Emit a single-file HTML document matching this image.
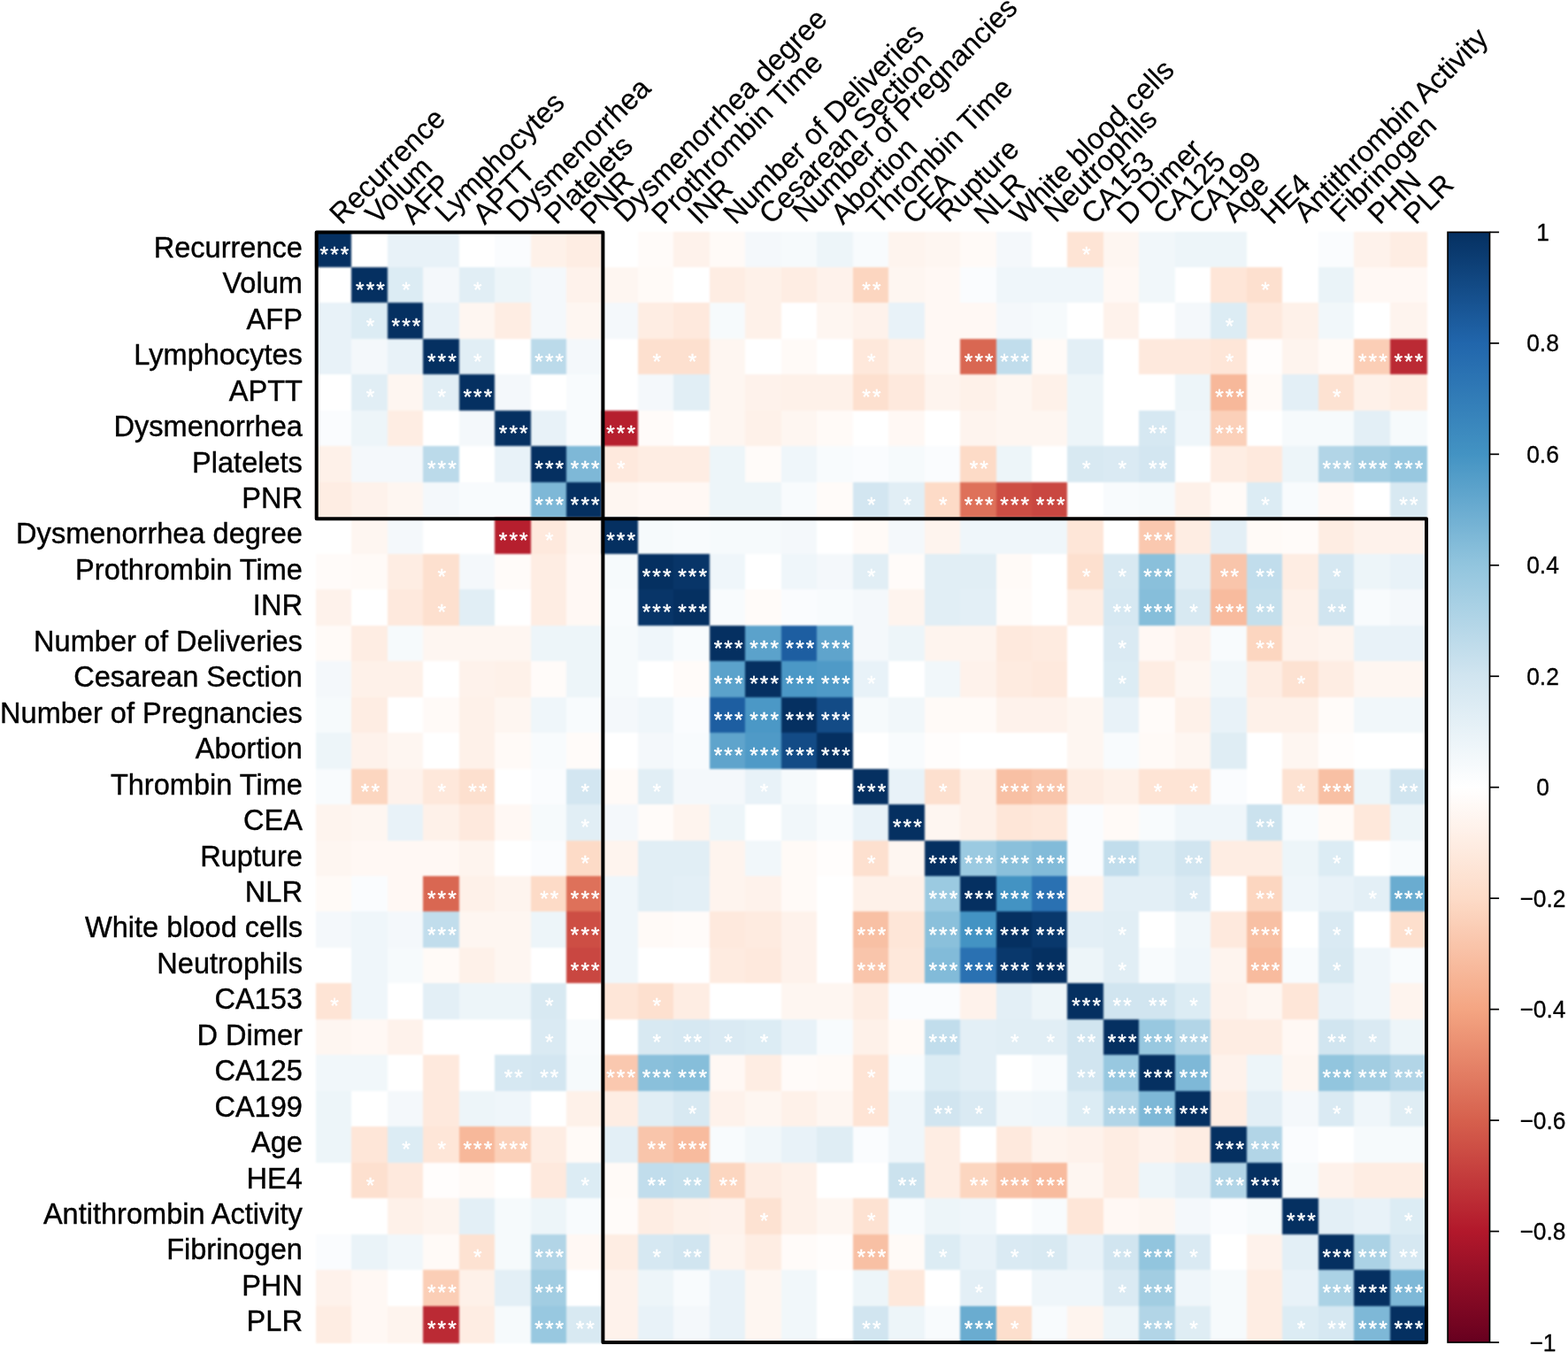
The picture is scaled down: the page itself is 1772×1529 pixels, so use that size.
<!DOCTYPE html>
<html lang="en"><head><meta charset="utf-8"><title>Correlation heatmap</title>
<style>
html,body{margin:0;padding:0;background:#fff;}
body{width:1772px;height:1529px;overflow:hidden;}
svg{display:block;font-family:"Liberation Sans",sans-serif;}
.rl{font-size:32.55px;text-anchor:end;fill:#000;stroke:#000;stroke-width:0.4px;}
.cl{font-size:32.6px;text-anchor:start;fill:#000;stroke:#000;stroke-width:0.2px;}
.st{font-size:24.5px;letter-spacing:2.1px;text-anchor:middle;fill:#fff;stroke:#fff;stroke-width:0.4px;}
.cb{font-size:26.4px;text-anchor:middle;fill:#000;stroke:#000;stroke-width:0.3px;}
</style></head><body>
<svg width="1772" height="1529" viewBox="0 0 1772 1529">
<rect x="0" y="0" width="1772" height="1529" fill="#fff"/>
<defs><linearGradient id="cbg" x1="0" y1="0" x2="0" y2="1">
<stop offset="0%" stop-color="#053061"/>
<stop offset="10%" stop-color="#2166AC"/>
<stop offset="20%" stop-color="#4393C3"/>
<stop offset="30%" stop-color="#92C5DE"/>
<stop offset="40%" stop-color="#D1E5F0"/>
<stop offset="50%" stop-color="#FFFFFF"/>
<stop offset="60%" stop-color="#FDDBC7"/>
<stop offset="70%" stop-color="#F4A582"/>
<stop offset="80%" stop-color="#D6604D"/>
<stop offset="90%" stop-color="#B2182B"/>
<stop offset="100%" stop-color="#67001F"/>
</linearGradient>
<filter id="soft" color-interpolation-filters="sRGB" filterUnits="userSpaceOnUse" x="0" y="0" width="1772" height="1529"><feGaussianBlur stdDeviation="0.8"/></filter></defs>
<g shape-rendering="crispEdges" filter="url(#soft)">
<rect x="356.80" y="261.50" width="42.26" height="42.27" fill="#053061"/>
<rect x="356.80" y="301.97" width="42.26" height="42.27" fill="#ffffff"/>
<rect x="356.80" y="342.44" width="42.26" height="42.27" fill="#e8f2f8"/>
<rect x="356.80" y="382.91" width="42.26" height="42.27" fill="#e8f2f8"/>
<rect x="356.80" y="423.38" width="42.26" height="42.27" fill="#ffffff"/>
<rect x="356.80" y="463.85" width="42.26" height="42.27" fill="#fafcfe"/>
<rect x="356.80" y="504.33" width="42.26" height="42.27" fill="#fef1e9"/>
<rect x="356.80" y="544.80" width="42.26" height="42.27" fill="#feede3"/>
<rect x="356.80" y="585.27" width="42.26" height="42.27" fill="#ffffff"/>
<rect x="356.80" y="625.74" width="42.26" height="42.27" fill="#fffbf9"/>
<rect x="356.80" y="666.21" width="42.26" height="42.27" fill="#fef2eb"/>
<rect x="356.80" y="706.68" width="42.26" height="42.27" fill="#fffaf7"/>
<rect x="356.80" y="747.15" width="42.26" height="42.27" fill="#f4f8fb"/>
<rect x="356.80" y="787.62" width="42.26" height="42.27" fill="#f6fafc"/>
<rect x="356.80" y="828.09" width="42.26" height="42.27" fill="#edf5f9"/>
<rect x="356.80" y="868.56" width="42.26" height="42.27" fill="#f8fbfd"/>
<rect x="356.80" y="909.04" width="42.26" height="42.27" fill="#fef4ee"/>
<rect x="356.80" y="949.51" width="42.26" height="42.27" fill="#fef6f1"/>
<rect x="356.80" y="989.98" width="42.26" height="42.27" fill="#fffaf7"/>
<rect x="356.80" y="1030.45" width="42.26" height="42.27" fill="#f4f8fb"/>
<rect x="356.80" y="1070.92" width="42.26" height="42.27" fill="#ffffff"/>
<rect x="356.80" y="1111.39" width="42.26" height="42.27" fill="#fee4d5"/>
<rect x="356.80" y="1151.86" width="42.26" height="42.27" fill="#fef6f1"/>
<rect x="356.80" y="1192.33" width="42.26" height="42.27" fill="#f1f7fa"/>
<rect x="356.80" y="1232.80" width="42.26" height="42.27" fill="#edf5f9"/>
<rect x="356.80" y="1273.27" width="42.26" height="42.27" fill="#edf5f9"/>
<rect x="356.80" y="1313.75" width="42.26" height="42.27" fill="#ffffff"/>
<rect x="356.80" y="1354.22" width="42.26" height="42.27" fill="#ffffff"/>
<rect x="356.80" y="1394.69" width="42.26" height="42.27" fill="#fafcfe"/>
<rect x="356.80" y="1435.16" width="42.26" height="42.27" fill="#fef2eb"/>
<rect x="356.80" y="1475.63" width="42.26" height="42.27" fill="#feede3"/>
<rect x="397.26" y="261.50" width="42.26" height="42.27" fill="#ffffff"/>
<rect x="397.26" y="301.97" width="42.26" height="42.27" fill="#053061"/>
<rect x="397.26" y="342.44" width="42.26" height="42.27" fill="#dcecf4"/>
<rect x="397.26" y="382.91" width="42.26" height="42.27" fill="#f4f8fb"/>
<rect x="397.26" y="423.38" width="42.26" height="42.27" fill="#e1eef5"/>
<rect x="397.26" y="463.85" width="42.26" height="42.27" fill="#edf5f9"/>
<rect x="397.26" y="504.33" width="42.26" height="42.27" fill="#f4f8fb"/>
<rect x="397.26" y="544.80" width="42.26" height="42.27" fill="#fef2eb"/>
<rect x="397.26" y="585.27" width="42.26" height="42.27" fill="#fef6f1"/>
<rect x="397.26" y="625.74" width="42.26" height="42.27" fill="#fffaf7"/>
<rect x="397.26" y="666.21" width="42.26" height="42.27" fill="#ffffff"/>
<rect x="397.26" y="706.68" width="42.26" height="42.27" fill="#feede3"/>
<rect x="397.26" y="747.15" width="42.26" height="42.27" fill="#fef1e9"/>
<rect x="397.26" y="787.62" width="42.26" height="42.27" fill="#feede3"/>
<rect x="397.26" y="828.09" width="42.26" height="42.27" fill="#fef2eb"/>
<rect x="397.26" y="868.56" width="42.26" height="42.27" fill="#fcd6c0"/>
<rect x="397.26" y="909.04" width="42.26" height="42.27" fill="#fef6f1"/>
<rect x="397.26" y="949.51" width="42.26" height="42.27" fill="#fff8f4"/>
<rect x="397.26" y="989.98" width="42.26" height="42.27" fill="#fafcfe"/>
<rect x="397.26" y="1030.45" width="42.26" height="42.27" fill="#eff6fa"/>
<rect x="397.26" y="1070.92" width="42.26" height="42.27" fill="#eff6fa"/>
<rect x="397.26" y="1111.39" width="42.26" height="42.27" fill="#eff6fa"/>
<rect x="397.26" y="1151.86" width="42.26" height="42.27" fill="#fff8f4"/>
<rect x="397.26" y="1192.33" width="42.26" height="42.27" fill="#f1f7fa"/>
<rect x="397.26" y="1232.80" width="42.26" height="42.27" fill="#ffffff"/>
<rect x="397.26" y="1273.27" width="42.26" height="42.27" fill="#fee6d8"/>
<rect x="397.26" y="1313.75" width="42.26" height="42.27" fill="#fde0cf"/>
<rect x="397.26" y="1354.22" width="42.26" height="42.27" fill="#ffffff"/>
<rect x="397.26" y="1394.69" width="42.26" height="42.27" fill="#eaf3f8"/>
<rect x="397.26" y="1435.16" width="42.26" height="42.27" fill="#fff8f4"/>
<rect x="397.26" y="1475.63" width="42.26" height="42.27" fill="#fff8f4"/>
<rect x="437.72" y="261.50" width="42.26" height="42.27" fill="#e8f2f8"/>
<rect x="437.72" y="301.97" width="42.26" height="42.27" fill="#dcecf4"/>
<rect x="437.72" y="342.44" width="42.26" height="42.27" fill="#053061"/>
<rect x="437.72" y="382.91" width="42.26" height="42.27" fill="#e8f2f8"/>
<rect x="437.72" y="423.38" width="42.26" height="42.27" fill="#fef6f1"/>
<rect x="437.72" y="463.85" width="42.26" height="42.27" fill="#feede3"/>
<rect x="437.72" y="504.33" width="42.26" height="42.27" fill="#f4f8fb"/>
<rect x="437.72" y="544.80" width="42.26" height="42.27" fill="#fef6f1"/>
<rect x="437.72" y="585.27" width="42.26" height="42.27" fill="#f4f8fb"/>
<rect x="437.72" y="625.74" width="42.26" height="42.27" fill="#feede3"/>
<rect x="437.72" y="666.21" width="42.26" height="42.27" fill="#fee9dd"/>
<rect x="437.72" y="706.68" width="42.26" height="42.27" fill="#f6fafc"/>
<rect x="437.72" y="747.15" width="42.26" height="42.27" fill="#fef1e9"/>
<rect x="437.72" y="787.62" width="42.26" height="42.27" fill="#ffffff"/>
<rect x="437.72" y="828.09" width="42.26" height="42.27" fill="#fef6f1"/>
<rect x="437.72" y="868.56" width="42.26" height="42.27" fill="#fef2eb"/>
<rect x="437.72" y="909.04" width="42.26" height="42.27" fill="#e8f2f8"/>
<rect x="437.72" y="949.51" width="42.26" height="42.27" fill="#fff8f4"/>
<rect x="437.72" y="989.98" width="42.26" height="42.27" fill="#fff8f4"/>
<rect x="437.72" y="1030.45" width="42.26" height="42.27" fill="#f4f8fb"/>
<rect x="437.72" y="1070.92" width="42.26" height="42.27" fill="#f6fafc"/>
<rect x="437.72" y="1111.39" width="42.26" height="42.27" fill="#ffffff"/>
<rect x="437.72" y="1151.86" width="42.26" height="42.27" fill="#fef2eb"/>
<rect x="437.72" y="1192.33" width="42.26" height="42.27" fill="#ffffff"/>
<rect x="437.72" y="1232.80" width="42.26" height="42.27" fill="#f4f8fb"/>
<rect x="437.72" y="1273.27" width="42.26" height="42.27" fill="#dcecf4"/>
<rect x="437.72" y="1313.75" width="42.26" height="42.27" fill="#fee9dd"/>
<rect x="437.72" y="1354.22" width="42.26" height="42.27" fill="#fef1e9"/>
<rect x="437.72" y="1394.69" width="42.26" height="42.27" fill="#f1f7fa"/>
<rect x="437.72" y="1435.16" width="42.26" height="42.27" fill="#ffffff"/>
<rect x="437.72" y="1475.63" width="42.26" height="42.27" fill="#fef4ee"/>
<rect x="478.18" y="261.50" width="42.26" height="42.27" fill="#e8f2f8"/>
<rect x="478.18" y="301.97" width="42.26" height="42.27" fill="#f4f8fb"/>
<rect x="478.18" y="342.44" width="42.26" height="42.27" fill="#e8f2f8"/>
<rect x="478.18" y="382.91" width="42.26" height="42.27" fill="#053061"/>
<rect x="478.18" y="423.38" width="42.26" height="42.27" fill="#e1eef5"/>
<rect x="478.18" y="463.85" width="42.26" height="42.27" fill="#ffffff"/>
<rect x="478.18" y="504.33" width="42.26" height="42.27" fill="#bbdaea"/>
<rect x="478.18" y="544.80" width="42.26" height="42.27" fill="#f4f8fb"/>
<rect x="478.18" y="585.27" width="42.26" height="42.27" fill="#ffffff"/>
<rect x="478.18" y="625.74" width="42.26" height="42.27" fill="#fde0cf"/>
<rect x="478.18" y="666.21" width="42.26" height="42.27" fill="#fde0cf"/>
<rect x="478.18" y="706.68" width="42.26" height="42.27" fill="#fef6f1"/>
<rect x="478.18" y="747.15" width="42.26" height="42.27" fill="#ffffff"/>
<rect x="478.18" y="787.62" width="42.26" height="42.27" fill="#fffaf7"/>
<rect x="478.18" y="828.09" width="42.26" height="42.27" fill="#ffffff"/>
<rect x="478.18" y="868.56" width="42.26" height="42.27" fill="#fee8db"/>
<rect x="478.18" y="909.04" width="42.26" height="42.27" fill="#fef1e9"/>
<rect x="478.18" y="949.51" width="42.26" height="42.27" fill="#fff8f4"/>
<rect x="478.18" y="989.98" width="42.26" height="42.27" fill="#d96752"/>
<rect x="478.18" y="1030.45" width="42.26" height="42.27" fill="#c1ddec"/>
<rect x="478.18" y="1070.92" width="42.26" height="42.27" fill="#fffaf7"/>
<rect x="478.18" y="1111.39" width="42.26" height="42.27" fill="#e3eff6"/>
<rect x="478.18" y="1151.86" width="42.26" height="42.27" fill="#ffffff"/>
<rect x="478.18" y="1192.33" width="42.26" height="42.27" fill="#fee9dd"/>
<rect x="478.18" y="1232.80" width="42.26" height="42.27" fill="#fee9dd"/>
<rect x="478.18" y="1273.27" width="42.26" height="42.27" fill="#fee6d8"/>
<rect x="478.18" y="1313.75" width="42.26" height="42.27" fill="#fffdfc"/>
<rect x="478.18" y="1354.22" width="42.26" height="42.27" fill="#fef4ee"/>
<rect x="478.18" y="1394.69" width="42.26" height="42.27" fill="#fffaf7"/>
<rect x="478.18" y="1435.16" width="42.26" height="42.27" fill="#fbceb6"/>
<rect x="478.18" y="1475.63" width="42.26" height="42.27" fill="#bb2a34"/>
<rect x="518.65" y="261.50" width="42.26" height="42.27" fill="#ffffff"/>
<rect x="518.65" y="301.97" width="42.26" height="42.27" fill="#e1eef5"/>
<rect x="518.65" y="342.44" width="42.26" height="42.27" fill="#fef6f1"/>
<rect x="518.65" y="382.91" width="42.26" height="42.27" fill="#e1eef5"/>
<rect x="518.65" y="423.38" width="42.26" height="42.27" fill="#053061"/>
<rect x="518.65" y="463.85" width="42.26" height="42.27" fill="#f4f8fb"/>
<rect x="518.65" y="504.33" width="42.26" height="42.27" fill="#ffffff"/>
<rect x="518.65" y="544.80" width="42.26" height="42.27" fill="#f8fbfd"/>
<rect x="518.65" y="585.27" width="42.26" height="42.27" fill="#ffffff"/>
<rect x="518.65" y="625.74" width="42.26" height="42.27" fill="#f4f8fb"/>
<rect x="518.65" y="666.21" width="42.26" height="42.27" fill="#e1eef5"/>
<rect x="518.65" y="706.68" width="42.26" height="42.27" fill="#fef6f1"/>
<rect x="518.65" y="747.15" width="42.26" height="42.27" fill="#fef2eb"/>
<rect x="518.65" y="787.62" width="42.26" height="42.27" fill="#fef1e9"/>
<rect x="518.65" y="828.09" width="42.26" height="42.27" fill="#fef1e9"/>
<rect x="518.65" y="868.56" width="42.26" height="42.27" fill="#fde0cf"/>
<rect x="518.65" y="909.04" width="42.26" height="42.27" fill="#fee9dd"/>
<rect x="518.65" y="949.51" width="42.26" height="42.27" fill="#fef4ee"/>
<rect x="518.65" y="989.98" width="42.26" height="42.27" fill="#fef1e9"/>
<rect x="518.65" y="1030.45" width="42.26" height="42.27" fill="#fef6f1"/>
<rect x="518.65" y="1070.92" width="42.26" height="42.27" fill="#fef1e9"/>
<rect x="518.65" y="1111.39" width="42.26" height="42.27" fill="#edf5f9"/>
<rect x="518.65" y="1151.86" width="42.26" height="42.27" fill="#ffffff"/>
<rect x="518.65" y="1192.33" width="42.26" height="42.27" fill="#ffffff"/>
<rect x="518.65" y="1232.80" width="42.26" height="42.27" fill="#edf5f9"/>
<rect x="518.65" y="1273.27" width="42.26" height="42.27" fill="#f7b89a"/>
<rect x="518.65" y="1313.75" width="42.26" height="42.27" fill="#fffaf7"/>
<rect x="518.65" y="1354.22" width="42.26" height="42.27" fill="#e3eff6"/>
<rect x="518.65" y="1394.69" width="42.26" height="42.27" fill="#fde2d2"/>
<rect x="518.65" y="1435.16" width="42.26" height="42.27" fill="#fef1e9"/>
<rect x="518.65" y="1475.63" width="42.26" height="42.27" fill="#feede3"/>
<rect x="559.11" y="261.50" width="42.26" height="42.27" fill="#fafcfe"/>
<rect x="559.11" y="301.97" width="42.26" height="42.27" fill="#edf5f9"/>
<rect x="559.11" y="342.44" width="42.26" height="42.27" fill="#feede3"/>
<rect x="559.11" y="382.91" width="42.26" height="42.27" fill="#ffffff"/>
<rect x="559.11" y="423.38" width="42.26" height="42.27" fill="#f4f8fb"/>
<rect x="559.11" y="463.85" width="42.26" height="42.27" fill="#053061"/>
<rect x="559.11" y="504.33" width="42.26" height="42.27" fill="#e8f2f8"/>
<rect x="559.11" y="544.80" width="42.26" height="42.27" fill="#f8fbfd"/>
<rect x="559.11" y="585.27" width="42.26" height="42.27" fill="#b61f2e"/>
<rect x="559.11" y="625.74" width="42.26" height="42.27" fill="#fffbf9"/>
<rect x="559.11" y="666.21" width="42.26" height="42.27" fill="#ffffff"/>
<rect x="559.11" y="706.68" width="42.26" height="42.27" fill="#fef6f1"/>
<rect x="559.11" y="747.15" width="42.26" height="42.27" fill="#fef1e9"/>
<rect x="559.11" y="787.62" width="42.26" height="42.27" fill="#fef6f1"/>
<rect x="559.11" y="828.09" width="42.26" height="42.27" fill="#fffaf7"/>
<rect x="559.11" y="868.56" width="42.26" height="42.27" fill="#ffffff"/>
<rect x="559.11" y="909.04" width="42.26" height="42.27" fill="#fff8f4"/>
<rect x="559.11" y="949.51" width="42.26" height="42.27" fill="#ffffff"/>
<rect x="559.11" y="989.98" width="42.26" height="42.27" fill="#fef4ee"/>
<rect x="559.11" y="1030.45" width="42.26" height="42.27" fill="#fef6f1"/>
<rect x="559.11" y="1070.92" width="42.26" height="42.27" fill="#fef6f1"/>
<rect x="559.11" y="1111.39" width="42.26" height="42.27" fill="#edf5f9"/>
<rect x="559.11" y="1151.86" width="42.26" height="42.27" fill="#ffffff"/>
<rect x="559.11" y="1192.33" width="42.26" height="42.27" fill="#d6e8f2"/>
<rect x="559.11" y="1232.80" width="42.26" height="42.27" fill="#eff6fa"/>
<rect x="559.11" y="1273.27" width="42.26" height="42.27" fill="#fbd0b9"/>
<rect x="559.11" y="1313.75" width="42.26" height="42.27" fill="#ffffff"/>
<rect x="559.11" y="1354.22" width="42.26" height="42.27" fill="#f6fafc"/>
<rect x="559.11" y="1394.69" width="42.26" height="42.27" fill="#f6fafc"/>
<rect x="559.11" y="1435.16" width="42.26" height="42.27" fill="#e3eff6"/>
<rect x="559.11" y="1475.63" width="42.26" height="42.27" fill="#f6fafc"/>
<rect x="599.57" y="261.50" width="42.26" height="42.27" fill="#fef1e9"/>
<rect x="599.57" y="301.97" width="42.26" height="42.27" fill="#f4f8fb"/>
<rect x="599.57" y="342.44" width="42.26" height="42.27" fill="#f4f8fb"/>
<rect x="599.57" y="382.91" width="42.26" height="42.27" fill="#bbdaea"/>
<rect x="599.57" y="423.38" width="42.26" height="42.27" fill="#ffffff"/>
<rect x="599.57" y="463.85" width="42.26" height="42.27" fill="#e8f2f8"/>
<rect x="599.57" y="504.33" width="42.26" height="42.27" fill="#053061"/>
<rect x="599.57" y="544.80" width="42.26" height="42.27" fill="#7eb8d7"/>
<rect x="599.57" y="585.27" width="42.26" height="42.27" fill="#fee9dd"/>
<rect x="599.57" y="625.74" width="42.26" height="42.27" fill="#feede3"/>
<rect x="599.57" y="666.21" width="42.26" height="42.27" fill="#feede3"/>
<rect x="599.57" y="706.68" width="42.26" height="42.27" fill="#edf5f9"/>
<rect x="599.57" y="747.15" width="42.26" height="42.27" fill="#fffbf9"/>
<rect x="599.57" y="787.62" width="42.26" height="42.27" fill="#eff6fa"/>
<rect x="599.57" y="828.09" width="42.26" height="42.27" fill="#f8fbfd"/>
<rect x="599.57" y="868.56" width="42.26" height="42.27" fill="#fafcfe"/>
<rect x="599.57" y="909.04" width="42.26" height="42.27" fill="#f6fafc"/>
<rect x="599.57" y="949.51" width="42.26" height="42.27" fill="#fafcfe"/>
<rect x="599.57" y="989.98" width="42.26" height="42.27" fill="#fddbc7"/>
<rect x="599.57" y="1030.45" width="42.26" height="42.27" fill="#edf5f9"/>
<rect x="599.57" y="1070.92" width="42.26" height="42.27" fill="#ffffff"/>
<rect x="599.57" y="1111.39" width="42.26" height="42.27" fill="#d8e9f2"/>
<rect x="599.57" y="1151.86" width="42.26" height="42.27" fill="#daeaf3"/>
<rect x="599.57" y="1192.33" width="42.26" height="42.27" fill="#d3e6f1"/>
<rect x="599.57" y="1232.80" width="42.26" height="42.27" fill="#ffffff"/>
<rect x="599.57" y="1273.27" width="42.26" height="42.27" fill="#feede3"/>
<rect x="599.57" y="1313.75" width="42.26" height="42.27" fill="#fee9dd"/>
<rect x="599.57" y="1354.22" width="42.26" height="42.27" fill="#edf5f9"/>
<rect x="599.57" y="1394.69" width="42.26" height="42.27" fill="#b2d5e7"/>
<rect x="599.57" y="1435.16" width="42.26" height="42.27" fill="#a2cde2"/>
<rect x="599.57" y="1475.63" width="42.26" height="42.27" fill="#98c8e0"/>
<rect x="640.03" y="261.50" width="42.26" height="42.27" fill="#feede3"/>
<rect x="640.03" y="301.97" width="42.26" height="42.27" fill="#fef2eb"/>
<rect x="640.03" y="342.44" width="42.26" height="42.27" fill="#fef6f1"/>
<rect x="640.03" y="382.91" width="42.26" height="42.27" fill="#f4f8fb"/>
<rect x="640.03" y="423.38" width="42.26" height="42.27" fill="#f8fbfd"/>
<rect x="640.03" y="463.85" width="42.26" height="42.27" fill="#f8fbfd"/>
<rect x="640.03" y="504.33" width="42.26" height="42.27" fill="#7eb8d7"/>
<rect x="640.03" y="544.80" width="42.26" height="42.27" fill="#053061"/>
<rect x="640.03" y="585.27" width="42.26" height="42.27" fill="#fef6f1"/>
<rect x="640.03" y="625.74" width="42.26" height="42.27" fill="#fff8f4"/>
<rect x="640.03" y="666.21" width="42.26" height="42.27" fill="#fff8f4"/>
<rect x="640.03" y="706.68" width="42.26" height="42.27" fill="#edf5f9"/>
<rect x="640.03" y="747.15" width="42.26" height="42.27" fill="#edf5f9"/>
<rect x="640.03" y="787.62" width="42.26" height="42.27" fill="#f8fbfd"/>
<rect x="640.03" y="828.09" width="42.26" height="42.27" fill="#fffbf9"/>
<rect x="640.03" y="868.56" width="42.26" height="42.27" fill="#d3e6f1"/>
<rect x="640.03" y="909.04" width="42.26" height="42.27" fill="#e1eef5"/>
<rect x="640.03" y="949.51" width="42.26" height="42.27" fill="#fddbc7"/>
<rect x="640.03" y="989.98" width="42.26" height="42.27" fill="#de715a"/>
<rect x="640.03" y="1030.45" width="42.26" height="42.27" fill="#cd4e44"/>
<rect x="640.03" y="1070.92" width="42.26" height="42.27" fill="#c94741"/>
<rect x="640.03" y="1111.39" width="42.26" height="42.27" fill="#ffffff"/>
<rect x="640.03" y="1151.86" width="42.26" height="42.27" fill="#f8fbfd"/>
<rect x="640.03" y="1192.33" width="42.26" height="42.27" fill="#f6fafc"/>
<rect x="640.03" y="1232.80" width="42.26" height="42.27" fill="#fef1e9"/>
<rect x="640.03" y="1273.27" width="42.26" height="42.27" fill="#fffaf7"/>
<rect x="640.03" y="1313.75" width="42.26" height="42.27" fill="#dcecf4"/>
<rect x="640.03" y="1354.22" width="42.26" height="42.27" fill="#f8fbfd"/>
<rect x="640.03" y="1394.69" width="42.26" height="42.27" fill="#fff8f4"/>
<rect x="640.03" y="1435.16" width="42.26" height="42.27" fill="#ffffff"/>
<rect x="640.03" y="1475.63" width="42.26" height="42.27" fill="#d8e9f2"/>
<rect x="680.49" y="261.50" width="42.26" height="42.27" fill="#ffffff"/>
<rect x="680.49" y="301.97" width="42.26" height="42.27" fill="#fef6f1"/>
<rect x="680.49" y="342.44" width="42.26" height="42.27" fill="#f4f8fb"/>
<rect x="680.49" y="382.91" width="42.26" height="42.27" fill="#ffffff"/>
<rect x="680.49" y="423.38" width="42.26" height="42.27" fill="#ffffff"/>
<rect x="680.49" y="463.85" width="42.26" height="42.27" fill="#b61f2e"/>
<rect x="680.49" y="504.33" width="42.26" height="42.27" fill="#fee9dd"/>
<rect x="680.49" y="544.80" width="42.26" height="42.27" fill="#fef6f1"/>
<rect x="680.49" y="585.27" width="42.26" height="42.27" fill="#053061"/>
<rect x="680.49" y="625.74" width="42.26" height="42.27" fill="#f6fafc"/>
<rect x="680.49" y="666.21" width="42.26" height="42.27" fill="#f8fbfd"/>
<rect x="680.49" y="706.68" width="42.26" height="42.27" fill="#f6fafc"/>
<rect x="680.49" y="747.15" width="42.26" height="42.27" fill="#f6fafc"/>
<rect x="680.49" y="787.62" width="42.26" height="42.27" fill="#f4f8fb"/>
<rect x="680.49" y="828.09" width="42.26" height="42.27" fill="#ffffff"/>
<rect x="680.49" y="868.56" width="42.26" height="42.27" fill="#fffaf7"/>
<rect x="680.49" y="909.04" width="42.26" height="42.27" fill="#f4f8fb"/>
<rect x="680.49" y="949.51" width="42.26" height="42.27" fill="#fef4ee"/>
<rect x="680.49" y="989.98" width="42.26" height="42.27" fill="#eff6fa"/>
<rect x="680.49" y="1030.45" width="42.26" height="42.27" fill="#eff6fa"/>
<rect x="680.49" y="1070.92" width="42.26" height="42.27" fill="#eff6fa"/>
<rect x="680.49" y="1111.39" width="42.26" height="42.27" fill="#fee6d8"/>
<rect x="680.49" y="1151.86" width="42.26" height="42.27" fill="#ffffff"/>
<rect x="680.49" y="1192.33" width="42.26" height="42.27" fill="#fac8af"/>
<rect x="680.49" y="1232.80" width="42.26" height="42.27" fill="#feede3"/>
<rect x="680.49" y="1273.27" width="42.26" height="42.27" fill="#e3eff6"/>
<rect x="680.49" y="1313.75" width="42.26" height="42.27" fill="#fffaf7"/>
<rect x="680.49" y="1354.22" width="42.26" height="42.27" fill="#fffbf9"/>
<rect x="680.49" y="1394.69" width="42.26" height="42.27" fill="#feede3"/>
<rect x="680.49" y="1435.16" width="42.26" height="42.27" fill="#fef2eb"/>
<rect x="680.49" y="1475.63" width="42.26" height="42.27" fill="#fef2eb"/>
<rect x="720.95" y="261.50" width="42.26" height="42.27" fill="#fffbf9"/>
<rect x="720.95" y="301.97" width="42.26" height="42.27" fill="#fffaf7"/>
<rect x="720.95" y="342.44" width="42.26" height="42.27" fill="#feede3"/>
<rect x="720.95" y="382.91" width="42.26" height="42.27" fill="#fde0cf"/>
<rect x="720.95" y="423.38" width="42.26" height="42.27" fill="#f4f8fb"/>
<rect x="720.95" y="463.85" width="42.26" height="42.27" fill="#fffbf9"/>
<rect x="720.95" y="504.33" width="42.26" height="42.27" fill="#feede3"/>
<rect x="720.95" y="544.80" width="42.26" height="42.27" fill="#fff8f4"/>
<rect x="720.95" y="585.27" width="42.26" height="42.27" fill="#f6fafc"/>
<rect x="720.95" y="625.74" width="42.26" height="42.27" fill="#053061"/>
<rect x="720.95" y="666.21" width="42.26" height="42.27" fill="#083568"/>
<rect x="720.95" y="706.68" width="42.26" height="42.27" fill="#eff6fa"/>
<rect x="720.95" y="747.15" width="42.26" height="42.27" fill="#ffffff"/>
<rect x="720.95" y="787.62" width="42.26" height="42.27" fill="#eff6fa"/>
<rect x="720.95" y="828.09" width="42.26" height="42.27" fill="#f4f8fb"/>
<rect x="720.95" y="868.56" width="42.26" height="42.27" fill="#e1eef5"/>
<rect x="720.95" y="909.04" width="42.26" height="42.27" fill="#fffbf9"/>
<rect x="720.95" y="949.51" width="42.26" height="42.27" fill="#e1eef5"/>
<rect x="720.95" y="989.98" width="42.26" height="42.27" fill="#e1eef5"/>
<rect x="720.95" y="1030.45" width="42.26" height="42.27" fill="#fffaf7"/>
<rect x="720.95" y="1070.92" width="42.26" height="42.27" fill="#ffffff"/>
<rect x="720.95" y="1111.39" width="42.26" height="42.27" fill="#fde0cf"/>
<rect x="720.95" y="1151.86" width="42.26" height="42.27" fill="#d8e9f2"/>
<rect x="720.95" y="1192.33" width="42.26" height="42.27" fill="#8ac0db"/>
<rect x="720.95" y="1232.80" width="42.26" height="42.27" fill="#e1eef5"/>
<rect x="720.95" y="1273.27" width="42.26" height="42.27" fill="#f9c5ab"/>
<rect x="720.95" y="1313.75" width="42.26" height="42.27" fill="#c1ddec"/>
<rect x="720.95" y="1354.22" width="42.26" height="42.27" fill="#feede3"/>
<rect x="720.95" y="1394.69" width="42.26" height="42.27" fill="#d6e8f2"/>
<rect x="720.95" y="1435.16" width="42.26" height="42.27" fill="#edf5f9"/>
<rect x="720.95" y="1475.63" width="42.26" height="42.27" fill="#e8f2f8"/>
<rect x="761.41" y="261.50" width="42.26" height="42.27" fill="#fef2eb"/>
<rect x="761.41" y="301.97" width="42.26" height="42.27" fill="#ffffff"/>
<rect x="761.41" y="342.44" width="42.26" height="42.27" fill="#fee9dd"/>
<rect x="761.41" y="382.91" width="42.26" height="42.27" fill="#fde0cf"/>
<rect x="761.41" y="423.38" width="42.26" height="42.27" fill="#e1eef5"/>
<rect x="761.41" y="463.85" width="42.26" height="42.27" fill="#ffffff"/>
<rect x="761.41" y="504.33" width="42.26" height="42.27" fill="#feede3"/>
<rect x="761.41" y="544.80" width="42.26" height="42.27" fill="#fff8f4"/>
<rect x="761.41" y="585.27" width="42.26" height="42.27" fill="#f8fbfd"/>
<rect x="761.41" y="625.74" width="42.26" height="42.27" fill="#083568"/>
<rect x="761.41" y="666.21" width="42.26" height="42.27" fill="#053061"/>
<rect x="761.41" y="706.68" width="42.26" height="42.27" fill="#f8fbfd"/>
<rect x="761.41" y="747.15" width="42.26" height="42.27" fill="#fffbf9"/>
<rect x="761.41" y="787.62" width="42.26" height="42.27" fill="#fafcfe"/>
<rect x="761.41" y="828.09" width="42.26" height="42.27" fill="#f8fbfd"/>
<rect x="761.41" y="868.56" width="42.26" height="42.27" fill="#f4f8fb"/>
<rect x="761.41" y="909.04" width="42.26" height="42.27" fill="#fef4ee"/>
<rect x="761.41" y="949.51" width="42.26" height="42.27" fill="#e1eef5"/>
<rect x="761.41" y="989.98" width="42.26" height="42.27" fill="#e3eff6"/>
<rect x="761.41" y="1030.45" width="42.26" height="42.27" fill="#fffbf9"/>
<rect x="761.41" y="1070.92" width="42.26" height="42.27" fill="#ffffff"/>
<rect x="761.41" y="1111.39" width="42.26" height="42.27" fill="#feede3"/>
<rect x="761.41" y="1151.86" width="42.26" height="42.27" fill="#d6e8f2"/>
<rect x="761.41" y="1192.33" width="42.26" height="42.27" fill="#86beda"/>
<rect x="761.41" y="1232.80" width="42.26" height="42.27" fill="#d8e9f2"/>
<rect x="761.41" y="1273.27" width="42.26" height="42.27" fill="#f8bb9e"/>
<rect x="761.41" y="1313.75" width="42.26" height="42.27" fill="#c4dfec"/>
<rect x="761.41" y="1354.22" width="42.26" height="42.27" fill="#fef1e9"/>
<rect x="761.41" y="1394.69" width="42.26" height="42.27" fill="#d1e5f0"/>
<rect x="761.41" y="1435.16" width="42.26" height="42.27" fill="#f8fbfd"/>
<rect x="761.41" y="1475.63" width="42.26" height="42.27" fill="#f4f8fb"/>
<rect x="801.87" y="261.50" width="42.26" height="42.27" fill="#fffaf7"/>
<rect x="801.87" y="301.97" width="42.26" height="42.27" fill="#feede3"/>
<rect x="801.87" y="342.44" width="42.26" height="42.27" fill="#f6fafc"/>
<rect x="801.87" y="382.91" width="42.26" height="42.27" fill="#fef6f1"/>
<rect x="801.87" y="423.38" width="42.26" height="42.27" fill="#fef6f1"/>
<rect x="801.87" y="463.85" width="42.26" height="42.27" fill="#fef6f1"/>
<rect x="801.87" y="504.33" width="42.26" height="42.27" fill="#edf5f9"/>
<rect x="801.87" y="544.80" width="42.26" height="42.27" fill="#edf5f9"/>
<rect x="801.87" y="585.27" width="42.26" height="42.27" fill="#f6fafc"/>
<rect x="801.87" y="625.74" width="42.26" height="42.27" fill="#eff6fa"/>
<rect x="801.87" y="666.21" width="42.26" height="42.27" fill="#f8fbfd"/>
<rect x="801.87" y="706.68" width="42.26" height="42.27" fill="#053061"/>
<rect x="801.87" y="747.15" width="42.26" height="42.27" fill="#5ba2cb"/>
<rect x="801.87" y="787.62" width="42.26" height="42.27" fill="#1d5ea1"/>
<rect x="801.87" y="828.09" width="42.26" height="42.27" fill="#5fa4cc"/>
<rect x="801.87" y="868.56" width="42.26" height="42.27" fill="#f4f8fb"/>
<rect x="801.87" y="909.04" width="42.26" height="42.27" fill="#edf5f9"/>
<rect x="801.87" y="949.51" width="42.26" height="42.27" fill="#fef4ee"/>
<rect x="801.87" y="989.98" width="42.26" height="42.27" fill="#fef4ee"/>
<rect x="801.87" y="1030.45" width="42.26" height="42.27" fill="#fee9dd"/>
<rect x="801.87" y="1070.92" width="42.26" height="42.27" fill="#feebe0"/>
<rect x="801.87" y="1111.39" width="42.26" height="42.27" fill="#ffffff"/>
<rect x="801.87" y="1151.86" width="42.26" height="42.27" fill="#daeaf3"/>
<rect x="801.87" y="1192.33" width="42.26" height="42.27" fill="#fff8f4"/>
<rect x="801.87" y="1232.80" width="42.26" height="42.27" fill="#fef2eb"/>
<rect x="801.87" y="1273.27" width="42.26" height="42.27" fill="#f8fbfd"/>
<rect x="801.87" y="1313.75" width="42.26" height="42.27" fill="#fcd6c0"/>
<rect x="801.87" y="1354.22" width="42.26" height="42.27" fill="#fef2eb"/>
<rect x="801.87" y="1394.69" width="42.26" height="42.27" fill="#fef4ee"/>
<rect x="801.87" y="1435.16" width="42.26" height="42.27" fill="#e8f2f8"/>
<rect x="801.87" y="1475.63" width="42.26" height="42.27" fill="#e8f2f8"/>
<rect x="842.34" y="261.50" width="42.26" height="42.27" fill="#f4f8fb"/>
<rect x="842.34" y="301.97" width="42.26" height="42.27" fill="#fef1e9"/>
<rect x="842.34" y="342.44" width="42.26" height="42.27" fill="#fef1e9"/>
<rect x="842.34" y="382.91" width="42.26" height="42.27" fill="#ffffff"/>
<rect x="842.34" y="423.38" width="42.26" height="42.27" fill="#fef2eb"/>
<rect x="842.34" y="463.85" width="42.26" height="42.27" fill="#fef1e9"/>
<rect x="842.34" y="504.33" width="42.26" height="42.27" fill="#fffbf9"/>
<rect x="842.34" y="544.80" width="42.26" height="42.27" fill="#edf5f9"/>
<rect x="842.34" y="585.27" width="42.26" height="42.27" fill="#f6fafc"/>
<rect x="842.34" y="625.74" width="42.26" height="42.27" fill="#ffffff"/>
<rect x="842.34" y="666.21" width="42.26" height="42.27" fill="#fffbf9"/>
<rect x="842.34" y="706.68" width="42.26" height="42.27" fill="#5ba2cb"/>
<rect x="842.34" y="747.15" width="42.26" height="42.27" fill="#053061"/>
<rect x="842.34" y="787.62" width="42.26" height="42.27" fill="#4b98c6"/>
<rect x="842.34" y="828.09" width="42.26" height="42.27" fill="#4f9ac7"/>
<rect x="842.34" y="868.56" width="42.26" height="42.27" fill="#e8f2f8"/>
<rect x="842.34" y="909.04" width="42.26" height="42.27" fill="#ffffff"/>
<rect x="842.34" y="949.51" width="42.26" height="42.27" fill="#f1f7fa"/>
<rect x="842.34" y="989.98" width="42.26" height="42.27" fill="#fef2eb"/>
<rect x="842.34" y="1030.45" width="42.26" height="42.27" fill="#feebe0"/>
<rect x="842.34" y="1070.92" width="42.26" height="42.27" fill="#fee9dd"/>
<rect x="842.34" y="1111.39" width="42.26" height="42.27" fill="#ffffff"/>
<rect x="842.34" y="1151.86" width="42.26" height="42.27" fill="#dcecf4"/>
<rect x="842.34" y="1192.33" width="42.26" height="42.27" fill="#feede3"/>
<rect x="842.34" y="1232.80" width="42.26" height="42.27" fill="#fef6f1"/>
<rect x="842.34" y="1273.27" width="42.26" height="42.27" fill="#f1f7fa"/>
<rect x="842.34" y="1313.75" width="42.26" height="42.27" fill="#feede3"/>
<rect x="842.34" y="1354.22" width="42.26" height="42.27" fill="#fde2d2"/>
<rect x="842.34" y="1394.69" width="42.26" height="42.27" fill="#feede3"/>
<rect x="842.34" y="1435.16" width="42.26" height="42.27" fill="#fef6f1"/>
<rect x="842.34" y="1475.63" width="42.26" height="42.27" fill="#fef6f1"/>
<rect x="882.80" y="261.50" width="42.26" height="42.27" fill="#f6fafc"/>
<rect x="882.80" y="301.97" width="42.26" height="42.27" fill="#feede3"/>
<rect x="882.80" y="342.44" width="42.26" height="42.27" fill="#ffffff"/>
<rect x="882.80" y="382.91" width="42.26" height="42.27" fill="#fffaf7"/>
<rect x="882.80" y="423.38" width="42.26" height="42.27" fill="#fef1e9"/>
<rect x="882.80" y="463.85" width="42.26" height="42.27" fill="#fef6f1"/>
<rect x="882.80" y="504.33" width="42.26" height="42.27" fill="#eff6fa"/>
<rect x="882.80" y="544.80" width="42.26" height="42.27" fill="#f8fbfd"/>
<rect x="882.80" y="585.27" width="42.26" height="42.27" fill="#f4f8fb"/>
<rect x="882.80" y="625.74" width="42.26" height="42.27" fill="#eff6fa"/>
<rect x="882.80" y="666.21" width="42.26" height="42.27" fill="#fafcfe"/>
<rect x="882.80" y="706.68" width="42.26" height="42.27" fill="#1d5ea1"/>
<rect x="882.80" y="747.15" width="42.26" height="42.27" fill="#4b98c6"/>
<rect x="882.80" y="787.62" width="42.26" height="42.27" fill="#053061"/>
<rect x="882.80" y="828.09" width="42.26" height="42.27" fill="#134b86"/>
<rect x="882.80" y="868.56" width="42.26" height="42.27" fill="#f6fafc"/>
<rect x="882.80" y="909.04" width="42.26" height="42.27" fill="#f1f7fa"/>
<rect x="882.80" y="949.51" width="42.26" height="42.27" fill="#fffaf7"/>
<rect x="882.80" y="989.98" width="42.26" height="42.27" fill="#fffaf7"/>
<rect x="882.80" y="1030.45" width="42.26" height="42.27" fill="#fef2eb"/>
<rect x="882.80" y="1070.92" width="42.26" height="42.27" fill="#fef2eb"/>
<rect x="882.80" y="1111.39" width="42.26" height="42.27" fill="#fef6f1"/>
<rect x="882.80" y="1151.86" width="42.26" height="42.27" fill="#e8f2f8"/>
<rect x="882.80" y="1192.33" width="42.26" height="42.27" fill="#fffbf9"/>
<rect x="882.80" y="1232.80" width="42.26" height="42.27" fill="#fef1e9"/>
<rect x="882.80" y="1273.27" width="42.26" height="42.27" fill="#e8f2f8"/>
<rect x="882.80" y="1313.75" width="42.26" height="42.27" fill="#fef1e9"/>
<rect x="882.80" y="1354.22" width="42.26" height="42.27" fill="#fef1e9"/>
<rect x="882.80" y="1394.69" width="42.26" height="42.27" fill="#fffbf9"/>
<rect x="882.80" y="1435.16" width="42.26" height="42.27" fill="#f1f7fa"/>
<rect x="882.80" y="1475.63" width="42.26" height="42.27" fill="#f1f7fa"/>
<rect x="923.26" y="261.50" width="42.26" height="42.27" fill="#edf5f9"/>
<rect x="923.26" y="301.97" width="42.26" height="42.27" fill="#fef2eb"/>
<rect x="923.26" y="342.44" width="42.26" height="42.27" fill="#fef6f1"/>
<rect x="923.26" y="382.91" width="42.26" height="42.27" fill="#ffffff"/>
<rect x="923.26" y="423.38" width="42.26" height="42.27" fill="#fef1e9"/>
<rect x="923.26" y="463.85" width="42.26" height="42.27" fill="#fffaf7"/>
<rect x="923.26" y="504.33" width="42.26" height="42.27" fill="#f8fbfd"/>
<rect x="923.26" y="544.80" width="42.26" height="42.27" fill="#fffbf9"/>
<rect x="923.26" y="585.27" width="42.26" height="42.27" fill="#ffffff"/>
<rect x="923.26" y="625.74" width="42.26" height="42.27" fill="#f4f8fb"/>
<rect x="923.26" y="666.21" width="42.26" height="42.27" fill="#f8fbfd"/>
<rect x="923.26" y="706.68" width="42.26" height="42.27" fill="#5fa4cc"/>
<rect x="923.26" y="747.15" width="42.26" height="42.27" fill="#4f9ac7"/>
<rect x="923.26" y="787.62" width="42.26" height="42.27" fill="#134b86"/>
<rect x="923.26" y="828.09" width="42.26" height="42.27" fill="#053061"/>
<rect x="923.26" y="868.56" width="42.26" height="42.27" fill="#ffffff"/>
<rect x="923.26" y="909.04" width="42.26" height="42.27" fill="#f8fbfd"/>
<rect x="923.26" y="949.51" width="42.26" height="42.27" fill="#fffdfc"/>
<rect x="923.26" y="989.98" width="42.26" height="42.27" fill="#ffffff"/>
<rect x="923.26" y="1030.45" width="42.26" height="42.27" fill="#ffffff"/>
<rect x="923.26" y="1070.92" width="42.26" height="42.27" fill="#ffffff"/>
<rect x="923.26" y="1111.39" width="42.26" height="42.27" fill="#fef6f1"/>
<rect x="923.26" y="1151.86" width="42.26" height="42.27" fill="#f8fbfd"/>
<rect x="923.26" y="1192.33" width="42.26" height="42.27" fill="#fffaf7"/>
<rect x="923.26" y="1232.80" width="42.26" height="42.27" fill="#fef6f1"/>
<rect x="923.26" y="1273.27" width="42.26" height="42.27" fill="#dfedf4"/>
<rect x="923.26" y="1313.75" width="42.26" height="42.27" fill="#ffffff"/>
<rect x="923.26" y="1354.22" width="42.26" height="42.27" fill="#fef6f1"/>
<rect x="923.26" y="1394.69" width="42.26" height="42.27" fill="#fffdfc"/>
<rect x="923.26" y="1435.16" width="42.26" height="42.27" fill="#ffffff"/>
<rect x="923.26" y="1475.63" width="42.26" height="42.27" fill="#ffffff"/>
<rect x="963.72" y="261.50" width="42.26" height="42.27" fill="#f8fbfd"/>
<rect x="963.72" y="301.97" width="42.26" height="42.27" fill="#fcd6c0"/>
<rect x="963.72" y="342.44" width="42.26" height="42.27" fill="#fef2eb"/>
<rect x="963.72" y="382.91" width="42.26" height="42.27" fill="#fee8db"/>
<rect x="963.72" y="423.38" width="42.26" height="42.27" fill="#fde0cf"/>
<rect x="963.72" y="463.85" width="42.26" height="42.27" fill="#ffffff"/>
<rect x="963.72" y="504.33" width="42.26" height="42.27" fill="#fafcfe"/>
<rect x="963.72" y="544.80" width="42.26" height="42.27" fill="#d3e6f1"/>
<rect x="963.72" y="585.27" width="42.26" height="42.27" fill="#fffaf7"/>
<rect x="963.72" y="625.74" width="42.26" height="42.27" fill="#e1eef5"/>
<rect x="963.72" y="666.21" width="42.26" height="42.27" fill="#f4f8fb"/>
<rect x="963.72" y="706.68" width="42.26" height="42.27" fill="#f4f8fb"/>
<rect x="963.72" y="747.15" width="42.26" height="42.27" fill="#e8f2f8"/>
<rect x="963.72" y="787.62" width="42.26" height="42.27" fill="#f6fafc"/>
<rect x="963.72" y="828.09" width="42.26" height="42.27" fill="#ffffff"/>
<rect x="963.72" y="868.56" width="42.26" height="42.27" fill="#053061"/>
<rect x="963.72" y="909.04" width="42.26" height="42.27" fill="#e8f2f8"/>
<rect x="963.72" y="949.51" width="42.26" height="42.27" fill="#fde0cf"/>
<rect x="963.72" y="989.98" width="42.26" height="42.27" fill="#fef1e9"/>
<rect x="963.72" y="1030.45" width="42.26" height="42.27" fill="#f8c0a4"/>
<rect x="963.72" y="1070.92" width="42.26" height="42.27" fill="#f9c5ab"/>
<rect x="963.72" y="1111.39" width="42.26" height="42.27" fill="#feede3"/>
<rect x="963.72" y="1151.86" width="42.26" height="42.27" fill="#fef1e9"/>
<rect x="963.72" y="1192.33" width="42.26" height="42.27" fill="#fee4d5"/>
<rect x="963.72" y="1232.80" width="42.26" height="42.27" fill="#fee4d5"/>
<rect x="963.72" y="1273.27" width="42.26" height="42.27" fill="#fafcfe"/>
<rect x="963.72" y="1313.75" width="42.26" height="42.27" fill="#ffffff"/>
<rect x="963.72" y="1354.22" width="42.26" height="42.27" fill="#fde2d2"/>
<rect x="963.72" y="1394.69" width="42.26" height="42.27" fill="#f8c0a4"/>
<rect x="963.72" y="1435.16" width="42.26" height="42.27" fill="#edf5f9"/>
<rect x="963.72" y="1475.63" width="42.26" height="42.27" fill="#d1e5f0"/>
<rect x="1004.18" y="261.50" width="42.26" height="42.27" fill="#fef4ee"/>
<rect x="1004.18" y="301.97" width="42.26" height="42.27" fill="#fef6f1"/>
<rect x="1004.18" y="342.44" width="42.26" height="42.27" fill="#e8f2f8"/>
<rect x="1004.18" y="382.91" width="42.26" height="42.27" fill="#fef1e9"/>
<rect x="1004.18" y="423.38" width="42.26" height="42.27" fill="#fee9dd"/>
<rect x="1004.18" y="463.85" width="42.26" height="42.27" fill="#fff8f4"/>
<rect x="1004.18" y="504.33" width="42.26" height="42.27" fill="#f6fafc"/>
<rect x="1004.18" y="544.80" width="42.26" height="42.27" fill="#e1eef5"/>
<rect x="1004.18" y="585.27" width="42.26" height="42.27" fill="#f4f8fb"/>
<rect x="1004.18" y="625.74" width="42.26" height="42.27" fill="#fffbf9"/>
<rect x="1004.18" y="666.21" width="42.26" height="42.27" fill="#fef4ee"/>
<rect x="1004.18" y="706.68" width="42.26" height="42.27" fill="#edf5f9"/>
<rect x="1004.18" y="747.15" width="42.26" height="42.27" fill="#ffffff"/>
<rect x="1004.18" y="787.62" width="42.26" height="42.27" fill="#f1f7fa"/>
<rect x="1004.18" y="828.09" width="42.26" height="42.27" fill="#f8fbfd"/>
<rect x="1004.18" y="868.56" width="42.26" height="42.27" fill="#e8f2f8"/>
<rect x="1004.18" y="909.04" width="42.26" height="42.27" fill="#053061"/>
<rect x="1004.18" y="949.51" width="42.26" height="42.27" fill="#fef6f1"/>
<rect x="1004.18" y="989.98" width="42.26" height="42.27" fill="#fef1e9"/>
<rect x="1004.18" y="1030.45" width="42.26" height="42.27" fill="#fee6d8"/>
<rect x="1004.18" y="1070.92" width="42.26" height="42.27" fill="#fee8db"/>
<rect x="1004.18" y="1111.39" width="42.26" height="42.27" fill="#fafcfe"/>
<rect x="1004.18" y="1151.86" width="42.26" height="42.27" fill="#fffaf7"/>
<rect x="1004.18" y="1192.33" width="42.26" height="42.27" fill="#f8fbfd"/>
<rect x="1004.18" y="1232.80" width="42.26" height="42.27" fill="#eff6fa"/>
<rect x="1004.18" y="1273.27" width="42.26" height="42.27" fill="#eff6fa"/>
<rect x="1004.18" y="1313.75" width="42.26" height="42.27" fill="#cbe2ee"/>
<rect x="1004.18" y="1354.22" width="42.26" height="42.27" fill="#f8fbfd"/>
<rect x="1004.18" y="1394.69" width="42.26" height="42.27" fill="#fffaf7"/>
<rect x="1004.18" y="1435.16" width="42.26" height="42.27" fill="#fee8db"/>
<rect x="1004.18" y="1475.63" width="42.26" height="42.27" fill="#edf5f9"/>
<rect x="1044.64" y="261.50" width="42.26" height="42.27" fill="#fef6f1"/>
<rect x="1044.64" y="301.97" width="42.26" height="42.27" fill="#fff8f4"/>
<rect x="1044.64" y="342.44" width="42.26" height="42.27" fill="#fff8f4"/>
<rect x="1044.64" y="382.91" width="42.26" height="42.27" fill="#fff8f4"/>
<rect x="1044.64" y="423.38" width="42.26" height="42.27" fill="#fef4ee"/>
<rect x="1044.64" y="463.85" width="42.26" height="42.27" fill="#ffffff"/>
<rect x="1044.64" y="504.33" width="42.26" height="42.27" fill="#fafcfe"/>
<rect x="1044.64" y="544.80" width="42.26" height="42.27" fill="#fddbc7"/>
<rect x="1044.64" y="585.27" width="42.26" height="42.27" fill="#fef4ee"/>
<rect x="1044.64" y="625.74" width="42.26" height="42.27" fill="#e1eef5"/>
<rect x="1044.64" y="666.21" width="42.26" height="42.27" fill="#e1eef5"/>
<rect x="1044.64" y="706.68" width="42.26" height="42.27" fill="#fef4ee"/>
<rect x="1044.64" y="747.15" width="42.26" height="42.27" fill="#f1f7fa"/>
<rect x="1044.64" y="787.62" width="42.26" height="42.27" fill="#fffaf7"/>
<rect x="1044.64" y="828.09" width="42.26" height="42.27" fill="#fffdfc"/>
<rect x="1044.64" y="868.56" width="42.26" height="42.27" fill="#fde0cf"/>
<rect x="1044.64" y="909.04" width="42.26" height="42.27" fill="#fef6f1"/>
<rect x="1044.64" y="949.51" width="42.26" height="42.27" fill="#053061"/>
<rect x="1044.64" y="989.98" width="42.26" height="42.27" fill="#9bcae1"/>
<rect x="1044.64" y="1030.45" width="42.26" height="42.27" fill="#8ac0db"/>
<rect x="1044.64" y="1070.92" width="42.26" height="42.27" fill="#82bbd9"/>
<rect x="1044.64" y="1111.39" width="42.26" height="42.27" fill="#fafcfe"/>
<rect x="1044.64" y="1151.86" width="42.26" height="42.27" fill="#c1ddec"/>
<rect x="1044.64" y="1192.33" width="42.26" height="42.27" fill="#dcecf4"/>
<rect x="1044.64" y="1232.80" width="42.26" height="42.27" fill="#d1e5f0"/>
<rect x="1044.64" y="1273.27" width="42.26" height="42.27" fill="#feede3"/>
<rect x="1044.64" y="1313.75" width="42.26" height="42.27" fill="#feede3"/>
<rect x="1044.64" y="1354.22" width="42.26" height="42.27" fill="#edf5f9"/>
<rect x="1044.64" y="1394.69" width="42.26" height="42.27" fill="#dcecf4"/>
<rect x="1044.64" y="1435.16" width="42.26" height="42.27" fill="#ffffff"/>
<rect x="1044.64" y="1475.63" width="42.26" height="42.27" fill="#f8fbfd"/>
<rect x="1085.10" y="261.50" width="42.26" height="42.27" fill="#fffaf7"/>
<rect x="1085.10" y="301.97" width="42.26" height="42.27" fill="#fafcfe"/>
<rect x="1085.10" y="342.44" width="42.26" height="42.27" fill="#fff8f4"/>
<rect x="1085.10" y="382.91" width="42.26" height="42.27" fill="#d96752"/>
<rect x="1085.10" y="423.38" width="42.26" height="42.27" fill="#fef1e9"/>
<rect x="1085.10" y="463.85" width="42.26" height="42.27" fill="#fef4ee"/>
<rect x="1085.10" y="504.33" width="42.26" height="42.27" fill="#fddbc7"/>
<rect x="1085.10" y="544.80" width="42.26" height="42.27" fill="#de715a"/>
<rect x="1085.10" y="585.27" width="42.26" height="42.27" fill="#eff6fa"/>
<rect x="1085.10" y="625.74" width="42.26" height="42.27" fill="#e1eef5"/>
<rect x="1085.10" y="666.21" width="42.26" height="42.27" fill="#e3eff6"/>
<rect x="1085.10" y="706.68" width="42.26" height="42.27" fill="#fef4ee"/>
<rect x="1085.10" y="747.15" width="42.26" height="42.27" fill="#fef2eb"/>
<rect x="1085.10" y="787.62" width="42.26" height="42.27" fill="#fffaf7"/>
<rect x="1085.10" y="828.09" width="42.26" height="42.27" fill="#ffffff"/>
<rect x="1085.10" y="868.56" width="42.26" height="42.27" fill="#fef1e9"/>
<rect x="1085.10" y="909.04" width="42.26" height="42.27" fill="#fef1e9"/>
<rect x="1085.10" y="949.51" width="42.26" height="42.27" fill="#9bcae1"/>
<rect x="1085.10" y="989.98" width="42.26" height="42.27" fill="#053061"/>
<rect x="1085.10" y="1030.45" width="42.26" height="42.27" fill="#4393c3"/>
<rect x="1085.10" y="1070.92" width="42.26" height="42.27" fill="#2a71b2"/>
<rect x="1085.10" y="1111.39" width="42.26" height="42.27" fill="#fef2eb"/>
<rect x="1085.10" y="1151.86" width="42.26" height="42.27" fill="#e3eff6"/>
<rect x="1085.10" y="1192.33" width="42.26" height="42.27" fill="#e3eff6"/>
<rect x="1085.10" y="1232.80" width="42.26" height="42.27" fill="#daeaf3"/>
<rect x="1085.10" y="1273.27" width="42.26" height="42.27" fill="#ffffff"/>
<rect x="1085.10" y="1313.75" width="42.26" height="42.27" fill="#fcd6c0"/>
<rect x="1085.10" y="1354.22" width="42.26" height="42.27" fill="#eff6fa"/>
<rect x="1085.10" y="1394.69" width="42.26" height="42.27" fill="#e8f2f8"/>
<rect x="1085.10" y="1435.16" width="42.26" height="42.27" fill="#e3eff6"/>
<rect x="1085.10" y="1475.63" width="42.26" height="42.27" fill="#6aacd0"/>
<rect x="1125.56" y="261.50" width="42.26" height="42.27" fill="#f4f8fb"/>
<rect x="1125.56" y="301.97" width="42.26" height="42.27" fill="#eff6fa"/>
<rect x="1125.56" y="342.44" width="42.26" height="42.27" fill="#f4f8fb"/>
<rect x="1125.56" y="382.91" width="42.26" height="42.27" fill="#c1ddec"/>
<rect x="1125.56" y="423.38" width="42.26" height="42.27" fill="#fef6f1"/>
<rect x="1125.56" y="463.85" width="42.26" height="42.27" fill="#fef6f1"/>
<rect x="1125.56" y="504.33" width="42.26" height="42.27" fill="#edf5f9"/>
<rect x="1125.56" y="544.80" width="42.26" height="42.27" fill="#cd4e44"/>
<rect x="1125.56" y="585.27" width="42.26" height="42.27" fill="#eff6fa"/>
<rect x="1125.56" y="625.74" width="42.26" height="42.27" fill="#fffaf7"/>
<rect x="1125.56" y="666.21" width="42.26" height="42.27" fill="#fffbf9"/>
<rect x="1125.56" y="706.68" width="42.26" height="42.27" fill="#fee9dd"/>
<rect x="1125.56" y="747.15" width="42.26" height="42.27" fill="#feebe0"/>
<rect x="1125.56" y="787.62" width="42.26" height="42.27" fill="#fef2eb"/>
<rect x="1125.56" y="828.09" width="42.26" height="42.27" fill="#ffffff"/>
<rect x="1125.56" y="868.56" width="42.26" height="42.27" fill="#f8c0a4"/>
<rect x="1125.56" y="909.04" width="42.26" height="42.27" fill="#fee6d8"/>
<rect x="1125.56" y="949.51" width="42.26" height="42.27" fill="#8ac0db"/>
<rect x="1125.56" y="989.98" width="42.26" height="42.27" fill="#4393c3"/>
<rect x="1125.56" y="1030.45" width="42.26" height="42.27" fill="#053061"/>
<rect x="1125.56" y="1070.92" width="42.26" height="42.27" fill="#09386c"/>
<rect x="1125.56" y="1111.39" width="42.26" height="42.27" fill="#e3eff6"/>
<rect x="1125.56" y="1151.86" width="42.26" height="42.27" fill="#e1eef5"/>
<rect x="1125.56" y="1192.33" width="42.26" height="42.27" fill="#ffffff"/>
<rect x="1125.56" y="1232.80" width="42.26" height="42.27" fill="#f1f7fa"/>
<rect x="1125.56" y="1273.27" width="42.26" height="42.27" fill="#fee9dd"/>
<rect x="1125.56" y="1313.75" width="42.26" height="42.27" fill="#f8c0a4"/>
<rect x="1125.56" y="1354.22" width="42.26" height="42.27" fill="#ffffff"/>
<rect x="1125.56" y="1394.69" width="42.26" height="42.27" fill="#daeaf3"/>
<rect x="1125.56" y="1435.16" width="42.26" height="42.27" fill="#ffffff"/>
<rect x="1125.56" y="1475.63" width="42.26" height="42.27" fill="#fddfcd"/>
<rect x="1166.03" y="261.50" width="42.26" height="42.27" fill="#ffffff"/>
<rect x="1166.03" y="301.97" width="42.26" height="42.27" fill="#eff6fa"/>
<rect x="1166.03" y="342.44" width="42.26" height="42.27" fill="#f6fafc"/>
<rect x="1166.03" y="382.91" width="42.26" height="42.27" fill="#fffaf7"/>
<rect x="1166.03" y="423.38" width="42.26" height="42.27" fill="#fef1e9"/>
<rect x="1166.03" y="463.85" width="42.26" height="42.27" fill="#fef6f1"/>
<rect x="1166.03" y="504.33" width="42.26" height="42.27" fill="#ffffff"/>
<rect x="1166.03" y="544.80" width="42.26" height="42.27" fill="#c94741"/>
<rect x="1166.03" y="585.27" width="42.26" height="42.27" fill="#eff6fa"/>
<rect x="1166.03" y="625.74" width="42.26" height="42.27" fill="#ffffff"/>
<rect x="1166.03" y="666.21" width="42.26" height="42.27" fill="#ffffff"/>
<rect x="1166.03" y="706.68" width="42.26" height="42.27" fill="#feebe0"/>
<rect x="1166.03" y="747.15" width="42.26" height="42.27" fill="#fee9dd"/>
<rect x="1166.03" y="787.62" width="42.26" height="42.27" fill="#fef2eb"/>
<rect x="1166.03" y="828.09" width="42.26" height="42.27" fill="#ffffff"/>
<rect x="1166.03" y="868.56" width="42.26" height="42.27" fill="#f9c5ab"/>
<rect x="1166.03" y="909.04" width="42.26" height="42.27" fill="#fee8db"/>
<rect x="1166.03" y="949.51" width="42.26" height="42.27" fill="#82bbd9"/>
<rect x="1166.03" y="989.98" width="42.26" height="42.27" fill="#2a71b2"/>
<rect x="1166.03" y="1030.45" width="42.26" height="42.27" fill="#09386c"/>
<rect x="1166.03" y="1070.92" width="42.26" height="42.27" fill="#053061"/>
<rect x="1166.03" y="1111.39" width="42.26" height="42.27" fill="#edf5f9"/>
<rect x="1166.03" y="1151.86" width="42.26" height="42.27" fill="#e1eef5"/>
<rect x="1166.03" y="1192.33" width="42.26" height="42.27" fill="#f8fbfd"/>
<rect x="1166.03" y="1232.80" width="42.26" height="42.27" fill="#eff6fa"/>
<rect x="1166.03" y="1273.27" width="42.26" height="42.27" fill="#fef4ee"/>
<rect x="1166.03" y="1313.75" width="42.26" height="42.27" fill="#f8bb9e"/>
<rect x="1166.03" y="1354.22" width="42.26" height="42.27" fill="#f8fbfd"/>
<rect x="1166.03" y="1394.69" width="42.26" height="42.27" fill="#d8e9f2"/>
<rect x="1166.03" y="1435.16" width="42.26" height="42.27" fill="#eff6fa"/>
<rect x="1166.03" y="1475.63" width="42.26" height="42.27" fill="#f8fbfd"/>
<rect x="1206.49" y="261.50" width="42.26" height="42.27" fill="#fee4d5"/>
<rect x="1206.49" y="301.97" width="42.26" height="42.27" fill="#eff6fa"/>
<rect x="1206.49" y="342.44" width="42.26" height="42.27" fill="#ffffff"/>
<rect x="1206.49" y="382.91" width="42.26" height="42.27" fill="#e3eff6"/>
<rect x="1206.49" y="423.38" width="42.26" height="42.27" fill="#edf5f9"/>
<rect x="1206.49" y="463.85" width="42.26" height="42.27" fill="#edf5f9"/>
<rect x="1206.49" y="504.33" width="42.26" height="42.27" fill="#d8e9f2"/>
<rect x="1206.49" y="544.80" width="42.26" height="42.27" fill="#ffffff"/>
<rect x="1206.49" y="585.27" width="42.26" height="42.27" fill="#fee6d8"/>
<rect x="1206.49" y="625.74" width="42.26" height="42.27" fill="#fde0cf"/>
<rect x="1206.49" y="666.21" width="42.26" height="42.27" fill="#feede3"/>
<rect x="1206.49" y="706.68" width="42.26" height="42.27" fill="#ffffff"/>
<rect x="1206.49" y="747.15" width="42.26" height="42.27" fill="#ffffff"/>
<rect x="1206.49" y="787.62" width="42.26" height="42.27" fill="#fef6f1"/>
<rect x="1206.49" y="828.09" width="42.26" height="42.27" fill="#fef6f1"/>
<rect x="1206.49" y="868.56" width="42.26" height="42.27" fill="#feede3"/>
<rect x="1206.49" y="909.04" width="42.26" height="42.27" fill="#fafcfe"/>
<rect x="1206.49" y="949.51" width="42.26" height="42.27" fill="#fafcfe"/>
<rect x="1206.49" y="989.98" width="42.26" height="42.27" fill="#fef2eb"/>
<rect x="1206.49" y="1030.45" width="42.26" height="42.27" fill="#e3eff6"/>
<rect x="1206.49" y="1070.92" width="42.26" height="42.27" fill="#edf5f9"/>
<rect x="1206.49" y="1111.39" width="42.26" height="42.27" fill="#053061"/>
<rect x="1206.49" y="1151.86" width="42.26" height="42.27" fill="#d1e5f0"/>
<rect x="1206.49" y="1192.33" width="42.26" height="42.27" fill="#d1e5f0"/>
<rect x="1206.49" y="1232.80" width="42.26" height="42.27" fill="#dcecf4"/>
<rect x="1206.49" y="1273.27" width="42.26" height="42.27" fill="#fef2eb"/>
<rect x="1206.49" y="1313.75" width="42.26" height="42.27" fill="#fef6f1"/>
<rect x="1206.49" y="1354.22" width="42.26" height="42.27" fill="#fee6d8"/>
<rect x="1206.49" y="1394.69" width="42.26" height="42.27" fill="#e8f2f8"/>
<rect x="1206.49" y="1435.16" width="42.26" height="42.27" fill="#eff6fa"/>
<rect x="1206.49" y="1475.63" width="42.26" height="42.27" fill="#fef4ee"/>
<rect x="1246.95" y="261.50" width="42.26" height="42.27" fill="#fef6f1"/>
<rect x="1246.95" y="301.97" width="42.26" height="42.27" fill="#fff8f4"/>
<rect x="1246.95" y="342.44" width="42.26" height="42.27" fill="#fef2eb"/>
<rect x="1246.95" y="382.91" width="42.26" height="42.27" fill="#ffffff"/>
<rect x="1246.95" y="423.38" width="42.26" height="42.27" fill="#ffffff"/>
<rect x="1246.95" y="463.85" width="42.26" height="42.27" fill="#ffffff"/>
<rect x="1246.95" y="504.33" width="42.26" height="42.27" fill="#daeaf3"/>
<rect x="1246.95" y="544.80" width="42.26" height="42.27" fill="#f8fbfd"/>
<rect x="1246.95" y="585.27" width="42.26" height="42.27" fill="#ffffff"/>
<rect x="1246.95" y="625.74" width="42.26" height="42.27" fill="#d8e9f2"/>
<rect x="1246.95" y="666.21" width="42.26" height="42.27" fill="#d6e8f2"/>
<rect x="1246.95" y="706.68" width="42.26" height="42.27" fill="#daeaf3"/>
<rect x="1246.95" y="747.15" width="42.26" height="42.27" fill="#dcecf4"/>
<rect x="1246.95" y="787.62" width="42.26" height="42.27" fill="#e8f2f8"/>
<rect x="1246.95" y="828.09" width="42.26" height="42.27" fill="#f8fbfd"/>
<rect x="1246.95" y="868.56" width="42.26" height="42.27" fill="#fef1e9"/>
<rect x="1246.95" y="909.04" width="42.26" height="42.27" fill="#fffaf7"/>
<rect x="1246.95" y="949.51" width="42.26" height="42.27" fill="#c1ddec"/>
<rect x="1246.95" y="989.98" width="42.26" height="42.27" fill="#e3eff6"/>
<rect x="1246.95" y="1030.45" width="42.26" height="42.27" fill="#e1eef5"/>
<rect x="1246.95" y="1070.92" width="42.26" height="42.27" fill="#e1eef5"/>
<rect x="1246.95" y="1111.39" width="42.26" height="42.27" fill="#d1e5f0"/>
<rect x="1246.95" y="1151.86" width="42.26" height="42.27" fill="#053061"/>
<rect x="1246.95" y="1192.33" width="42.26" height="42.27" fill="#98c8e0"/>
<rect x="1246.95" y="1232.80" width="42.26" height="42.27" fill="#b2d5e7"/>
<rect x="1246.95" y="1273.27" width="42.26" height="42.27" fill="#feede3"/>
<rect x="1246.95" y="1313.75" width="42.26" height="42.27" fill="#feede3"/>
<rect x="1246.95" y="1354.22" width="42.26" height="42.27" fill="#fff8f4"/>
<rect x="1246.95" y="1394.69" width="42.26" height="42.27" fill="#d1e5f0"/>
<rect x="1246.95" y="1435.16" width="42.26" height="42.27" fill="#daeaf3"/>
<rect x="1246.95" y="1475.63" width="42.26" height="42.27" fill="#edf5f9"/>
<rect x="1287.41" y="261.50" width="42.26" height="42.27" fill="#f1f7fa"/>
<rect x="1287.41" y="301.97" width="42.26" height="42.27" fill="#f1f7fa"/>
<rect x="1287.41" y="342.44" width="42.26" height="42.27" fill="#ffffff"/>
<rect x="1287.41" y="382.91" width="42.26" height="42.27" fill="#fee9dd"/>
<rect x="1287.41" y="423.38" width="42.26" height="42.27" fill="#ffffff"/>
<rect x="1287.41" y="463.85" width="42.26" height="42.27" fill="#d6e8f2"/>
<rect x="1287.41" y="504.33" width="42.26" height="42.27" fill="#d3e6f1"/>
<rect x="1287.41" y="544.80" width="42.26" height="42.27" fill="#f6fafc"/>
<rect x="1287.41" y="585.27" width="42.26" height="42.27" fill="#fac8af"/>
<rect x="1287.41" y="625.74" width="42.26" height="42.27" fill="#8ac0db"/>
<rect x="1287.41" y="666.21" width="42.26" height="42.27" fill="#86beda"/>
<rect x="1287.41" y="706.68" width="42.26" height="42.27" fill="#fff8f4"/>
<rect x="1287.41" y="747.15" width="42.26" height="42.27" fill="#feede3"/>
<rect x="1287.41" y="787.62" width="42.26" height="42.27" fill="#fffbf9"/>
<rect x="1287.41" y="828.09" width="42.26" height="42.27" fill="#fffaf7"/>
<rect x="1287.41" y="868.56" width="42.26" height="42.27" fill="#fee4d5"/>
<rect x="1287.41" y="909.04" width="42.26" height="42.27" fill="#f8fbfd"/>
<rect x="1287.41" y="949.51" width="42.26" height="42.27" fill="#dcecf4"/>
<rect x="1287.41" y="989.98" width="42.26" height="42.27" fill="#e3eff6"/>
<rect x="1287.41" y="1030.45" width="42.26" height="42.27" fill="#ffffff"/>
<rect x="1287.41" y="1070.92" width="42.26" height="42.27" fill="#f8fbfd"/>
<rect x="1287.41" y="1111.39" width="42.26" height="42.27" fill="#d1e5f0"/>
<rect x="1287.41" y="1151.86" width="42.26" height="42.27" fill="#98c8e0"/>
<rect x="1287.41" y="1192.33" width="42.26" height="42.27" fill="#053061"/>
<rect x="1287.41" y="1232.80" width="42.26" height="42.27" fill="#7eb8d7"/>
<rect x="1287.41" y="1273.27" width="42.26" height="42.27" fill="#fef2eb"/>
<rect x="1287.41" y="1313.75" width="42.26" height="42.27" fill="#edf5f9"/>
<rect x="1287.41" y="1354.22" width="42.26" height="42.27" fill="#fef6f1"/>
<rect x="1287.41" y="1394.69" width="42.26" height="42.27" fill="#92c5de"/>
<rect x="1287.41" y="1435.16" width="42.26" height="42.27" fill="#a2cde2"/>
<rect x="1287.41" y="1475.63" width="42.26" height="42.27" fill="#b2d5e7"/>
<rect x="1327.87" y="261.50" width="42.26" height="42.27" fill="#edf5f9"/>
<rect x="1327.87" y="301.97" width="42.26" height="42.27" fill="#ffffff"/>
<rect x="1327.87" y="342.44" width="42.26" height="42.27" fill="#f4f8fb"/>
<rect x="1327.87" y="382.91" width="42.26" height="42.27" fill="#fee9dd"/>
<rect x="1327.87" y="423.38" width="42.26" height="42.27" fill="#edf5f9"/>
<rect x="1327.87" y="463.85" width="42.26" height="42.27" fill="#eff6fa"/>
<rect x="1327.87" y="504.33" width="42.26" height="42.27" fill="#ffffff"/>
<rect x="1327.87" y="544.80" width="42.26" height="42.27" fill="#fef1e9"/>
<rect x="1327.87" y="585.27" width="42.26" height="42.27" fill="#feede3"/>
<rect x="1327.87" y="625.74" width="42.26" height="42.27" fill="#e1eef5"/>
<rect x="1327.87" y="666.21" width="42.26" height="42.27" fill="#d8e9f2"/>
<rect x="1327.87" y="706.68" width="42.26" height="42.27" fill="#fef2eb"/>
<rect x="1327.87" y="747.15" width="42.26" height="42.27" fill="#fef6f1"/>
<rect x="1327.87" y="787.62" width="42.26" height="42.27" fill="#fef1e9"/>
<rect x="1327.87" y="828.09" width="42.26" height="42.27" fill="#fef6f1"/>
<rect x="1327.87" y="868.56" width="42.26" height="42.27" fill="#fee4d5"/>
<rect x="1327.87" y="909.04" width="42.26" height="42.27" fill="#eff6fa"/>
<rect x="1327.87" y="949.51" width="42.26" height="42.27" fill="#d1e5f0"/>
<rect x="1327.87" y="989.98" width="42.26" height="42.27" fill="#daeaf3"/>
<rect x="1327.87" y="1030.45" width="42.26" height="42.27" fill="#f1f7fa"/>
<rect x="1327.87" y="1070.92" width="42.26" height="42.27" fill="#eff6fa"/>
<rect x="1327.87" y="1111.39" width="42.26" height="42.27" fill="#dcecf4"/>
<rect x="1327.87" y="1151.86" width="42.26" height="42.27" fill="#b2d5e7"/>
<rect x="1327.87" y="1192.33" width="42.26" height="42.27" fill="#7eb8d7"/>
<rect x="1327.87" y="1232.80" width="42.26" height="42.27" fill="#053061"/>
<rect x="1327.87" y="1273.27" width="42.26" height="42.27" fill="#feede3"/>
<rect x="1327.87" y="1313.75" width="42.26" height="42.27" fill="#e3eff6"/>
<rect x="1327.87" y="1354.22" width="42.26" height="42.27" fill="#f4f8fb"/>
<rect x="1327.87" y="1394.69" width="42.26" height="42.27" fill="#daeaf3"/>
<rect x="1327.87" y="1435.16" width="42.26" height="42.27" fill="#eff6fa"/>
<rect x="1327.87" y="1475.63" width="42.26" height="42.27" fill="#dfedf4"/>
<rect x="1368.33" y="261.50" width="42.26" height="42.27" fill="#edf5f9"/>
<rect x="1368.33" y="301.97" width="42.26" height="42.27" fill="#fee6d8"/>
<rect x="1368.33" y="342.44" width="42.26" height="42.27" fill="#dcecf4"/>
<rect x="1368.33" y="382.91" width="42.26" height="42.27" fill="#fee6d8"/>
<rect x="1368.33" y="423.38" width="42.26" height="42.27" fill="#f7b89a"/>
<rect x="1368.33" y="463.85" width="42.26" height="42.27" fill="#fbd0b9"/>
<rect x="1368.33" y="504.33" width="42.26" height="42.27" fill="#feede3"/>
<rect x="1368.33" y="544.80" width="42.26" height="42.27" fill="#fffaf7"/>
<rect x="1368.33" y="585.27" width="42.26" height="42.27" fill="#e3eff6"/>
<rect x="1368.33" y="625.74" width="42.26" height="42.27" fill="#f9c5ab"/>
<rect x="1368.33" y="666.21" width="42.26" height="42.27" fill="#f8bb9e"/>
<rect x="1368.33" y="706.68" width="42.26" height="42.27" fill="#f8fbfd"/>
<rect x="1368.33" y="747.15" width="42.26" height="42.27" fill="#f1f7fa"/>
<rect x="1368.33" y="787.62" width="42.26" height="42.27" fill="#e8f2f8"/>
<rect x="1368.33" y="828.09" width="42.26" height="42.27" fill="#dfedf4"/>
<rect x="1368.33" y="868.56" width="42.26" height="42.27" fill="#fafcfe"/>
<rect x="1368.33" y="909.04" width="42.26" height="42.27" fill="#eff6fa"/>
<rect x="1368.33" y="949.51" width="42.26" height="42.27" fill="#feede3"/>
<rect x="1368.33" y="989.98" width="42.26" height="42.27" fill="#ffffff"/>
<rect x="1368.33" y="1030.45" width="42.26" height="42.27" fill="#fee9dd"/>
<rect x="1368.33" y="1070.92" width="42.26" height="42.27" fill="#fef4ee"/>
<rect x="1368.33" y="1111.39" width="42.26" height="42.27" fill="#fef2eb"/>
<rect x="1368.33" y="1151.86" width="42.26" height="42.27" fill="#feede3"/>
<rect x="1368.33" y="1192.33" width="42.26" height="42.27" fill="#fef2eb"/>
<rect x="1368.33" y="1232.80" width="42.26" height="42.27" fill="#feede3"/>
<rect x="1368.33" y="1273.27" width="42.26" height="42.27" fill="#053061"/>
<rect x="1368.33" y="1313.75" width="42.26" height="42.27" fill="#b2d5e7"/>
<rect x="1368.33" y="1354.22" width="42.26" height="42.27" fill="#fafcfe"/>
<rect x="1368.33" y="1394.69" width="42.26" height="42.27" fill="#ffffff"/>
<rect x="1368.33" y="1435.16" width="42.26" height="42.27" fill="#f6fafc"/>
<rect x="1368.33" y="1475.63" width="42.26" height="42.27" fill="#f6fafc"/>
<rect x="1408.79" y="261.50" width="42.26" height="42.27" fill="#ffffff"/>
<rect x="1408.79" y="301.97" width="42.26" height="42.27" fill="#fde0cf"/>
<rect x="1408.79" y="342.44" width="42.26" height="42.27" fill="#fee9dd"/>
<rect x="1408.79" y="382.91" width="42.26" height="42.27" fill="#fffdfc"/>
<rect x="1408.79" y="423.38" width="42.26" height="42.27" fill="#fffaf7"/>
<rect x="1408.79" y="463.85" width="42.26" height="42.27" fill="#ffffff"/>
<rect x="1408.79" y="504.33" width="42.26" height="42.27" fill="#fee9dd"/>
<rect x="1408.79" y="544.80" width="42.26" height="42.27" fill="#dcecf4"/>
<rect x="1408.79" y="585.27" width="42.26" height="42.27" fill="#fffaf7"/>
<rect x="1408.79" y="625.74" width="42.26" height="42.27" fill="#c1ddec"/>
<rect x="1408.79" y="666.21" width="42.26" height="42.27" fill="#c4dfec"/>
<rect x="1408.79" y="706.68" width="42.26" height="42.27" fill="#fcd6c0"/>
<rect x="1408.79" y="747.15" width="42.26" height="42.27" fill="#feede3"/>
<rect x="1408.79" y="787.62" width="42.26" height="42.27" fill="#fef1e9"/>
<rect x="1408.79" y="828.09" width="42.26" height="42.27" fill="#ffffff"/>
<rect x="1408.79" y="868.56" width="42.26" height="42.27" fill="#ffffff"/>
<rect x="1408.79" y="909.04" width="42.26" height="42.27" fill="#cbe2ee"/>
<rect x="1408.79" y="949.51" width="42.26" height="42.27" fill="#feede3"/>
<rect x="1408.79" y="989.98" width="42.26" height="42.27" fill="#fcd6c0"/>
<rect x="1408.79" y="1030.45" width="42.26" height="42.27" fill="#f8c0a4"/>
<rect x="1408.79" y="1070.92" width="42.26" height="42.27" fill="#f8bb9e"/>
<rect x="1408.79" y="1111.39" width="42.26" height="42.27" fill="#fef6f1"/>
<rect x="1408.79" y="1151.86" width="42.26" height="42.27" fill="#feede3"/>
<rect x="1408.79" y="1192.33" width="42.26" height="42.27" fill="#edf5f9"/>
<rect x="1408.79" y="1232.80" width="42.26" height="42.27" fill="#e3eff6"/>
<rect x="1408.79" y="1273.27" width="42.26" height="42.27" fill="#b2d5e7"/>
<rect x="1408.79" y="1313.75" width="42.26" height="42.27" fill="#053061"/>
<rect x="1408.79" y="1354.22" width="42.26" height="42.27" fill="#f6fafc"/>
<rect x="1408.79" y="1394.69" width="42.26" height="42.27" fill="#fef2eb"/>
<rect x="1408.79" y="1435.16" width="42.26" height="42.27" fill="#feede3"/>
<rect x="1408.79" y="1475.63" width="42.26" height="42.27" fill="#feede3"/>
<rect x="1449.25" y="261.50" width="42.26" height="42.27" fill="#ffffff"/>
<rect x="1449.25" y="301.97" width="42.26" height="42.27" fill="#ffffff"/>
<rect x="1449.25" y="342.44" width="42.26" height="42.27" fill="#fef1e9"/>
<rect x="1449.25" y="382.91" width="42.26" height="42.27" fill="#fef4ee"/>
<rect x="1449.25" y="423.38" width="42.26" height="42.27" fill="#e3eff6"/>
<rect x="1449.25" y="463.85" width="42.26" height="42.27" fill="#f6fafc"/>
<rect x="1449.25" y="504.33" width="42.26" height="42.27" fill="#edf5f9"/>
<rect x="1449.25" y="544.80" width="42.26" height="42.27" fill="#f8fbfd"/>
<rect x="1449.25" y="585.27" width="42.26" height="42.27" fill="#fffbf9"/>
<rect x="1449.25" y="625.74" width="42.26" height="42.27" fill="#feede3"/>
<rect x="1449.25" y="666.21" width="42.26" height="42.27" fill="#fef1e9"/>
<rect x="1449.25" y="706.68" width="42.26" height="42.27" fill="#fef2eb"/>
<rect x="1449.25" y="747.15" width="42.26" height="42.27" fill="#fde2d2"/>
<rect x="1449.25" y="787.62" width="42.26" height="42.27" fill="#fef1e9"/>
<rect x="1449.25" y="828.09" width="42.26" height="42.27" fill="#fef6f1"/>
<rect x="1449.25" y="868.56" width="42.26" height="42.27" fill="#fde2d2"/>
<rect x="1449.25" y="909.04" width="42.26" height="42.27" fill="#f8fbfd"/>
<rect x="1449.25" y="949.51" width="42.26" height="42.27" fill="#edf5f9"/>
<rect x="1449.25" y="989.98" width="42.26" height="42.27" fill="#eff6fa"/>
<rect x="1449.25" y="1030.45" width="42.26" height="42.27" fill="#ffffff"/>
<rect x="1449.25" y="1070.92" width="42.26" height="42.27" fill="#f8fbfd"/>
<rect x="1449.25" y="1111.39" width="42.26" height="42.27" fill="#fee6d8"/>
<rect x="1449.25" y="1151.86" width="42.26" height="42.27" fill="#fff8f4"/>
<rect x="1449.25" y="1192.33" width="42.26" height="42.27" fill="#fef6f1"/>
<rect x="1449.25" y="1232.80" width="42.26" height="42.27" fill="#f4f8fb"/>
<rect x="1449.25" y="1273.27" width="42.26" height="42.27" fill="#fafcfe"/>
<rect x="1449.25" y="1313.75" width="42.26" height="42.27" fill="#f6fafc"/>
<rect x="1449.25" y="1354.22" width="42.26" height="42.27" fill="#053061"/>
<rect x="1449.25" y="1394.69" width="42.26" height="42.27" fill="#e3eff6"/>
<rect x="1449.25" y="1435.16" width="42.26" height="42.27" fill="#e8f2f8"/>
<rect x="1449.25" y="1475.63" width="42.26" height="42.27" fill="#dcecf4"/>
<rect x="1489.72" y="261.50" width="42.26" height="42.27" fill="#fafcfe"/>
<rect x="1489.72" y="301.97" width="42.26" height="42.27" fill="#eaf3f8"/>
<rect x="1489.72" y="342.44" width="42.26" height="42.27" fill="#f1f7fa"/>
<rect x="1489.72" y="382.91" width="42.26" height="42.27" fill="#fffaf7"/>
<rect x="1489.72" y="423.38" width="42.26" height="42.27" fill="#fde2d2"/>
<rect x="1489.72" y="463.85" width="42.26" height="42.27" fill="#f6fafc"/>
<rect x="1489.72" y="504.33" width="42.26" height="42.27" fill="#b2d5e7"/>
<rect x="1489.72" y="544.80" width="42.26" height="42.27" fill="#fff8f4"/>
<rect x="1489.72" y="585.27" width="42.26" height="42.27" fill="#feede3"/>
<rect x="1489.72" y="625.74" width="42.26" height="42.27" fill="#d6e8f2"/>
<rect x="1489.72" y="666.21" width="42.26" height="42.27" fill="#d1e5f0"/>
<rect x="1489.72" y="706.68" width="42.26" height="42.27" fill="#fef4ee"/>
<rect x="1489.72" y="747.15" width="42.26" height="42.27" fill="#feede3"/>
<rect x="1489.72" y="787.62" width="42.26" height="42.27" fill="#fffbf9"/>
<rect x="1489.72" y="828.09" width="42.26" height="42.27" fill="#fffdfc"/>
<rect x="1489.72" y="868.56" width="42.26" height="42.27" fill="#f8c0a4"/>
<rect x="1489.72" y="909.04" width="42.26" height="42.27" fill="#fffaf7"/>
<rect x="1489.72" y="949.51" width="42.26" height="42.27" fill="#dcecf4"/>
<rect x="1489.72" y="989.98" width="42.26" height="42.27" fill="#e8f2f8"/>
<rect x="1489.72" y="1030.45" width="42.26" height="42.27" fill="#daeaf3"/>
<rect x="1489.72" y="1070.92" width="42.26" height="42.27" fill="#d8e9f2"/>
<rect x="1489.72" y="1111.39" width="42.26" height="42.27" fill="#e8f2f8"/>
<rect x="1489.72" y="1151.86" width="42.26" height="42.27" fill="#d1e5f0"/>
<rect x="1489.72" y="1192.33" width="42.26" height="42.27" fill="#92c5de"/>
<rect x="1489.72" y="1232.80" width="42.26" height="42.27" fill="#daeaf3"/>
<rect x="1489.72" y="1273.27" width="42.26" height="42.27" fill="#ffffff"/>
<rect x="1489.72" y="1313.75" width="42.26" height="42.27" fill="#fef2eb"/>
<rect x="1489.72" y="1354.22" width="42.26" height="42.27" fill="#e3eff6"/>
<rect x="1489.72" y="1394.69" width="42.26" height="42.27" fill="#053061"/>
<rect x="1489.72" y="1435.16" width="42.26" height="42.27" fill="#abd2e5"/>
<rect x="1489.72" y="1475.63" width="42.26" height="42.27" fill="#d6e8f2"/>
<rect x="1530.18" y="261.50" width="42.26" height="42.27" fill="#fef2eb"/>
<rect x="1530.18" y="301.97" width="42.26" height="42.27" fill="#fff8f4"/>
<rect x="1530.18" y="342.44" width="42.26" height="42.27" fill="#ffffff"/>
<rect x="1530.18" y="382.91" width="42.26" height="42.27" fill="#fbceb6"/>
<rect x="1530.18" y="423.38" width="42.26" height="42.27" fill="#fef1e9"/>
<rect x="1530.18" y="463.85" width="42.26" height="42.27" fill="#e3eff6"/>
<rect x="1530.18" y="504.33" width="42.26" height="42.27" fill="#a2cde2"/>
<rect x="1530.18" y="544.80" width="42.26" height="42.27" fill="#ffffff"/>
<rect x="1530.18" y="585.27" width="42.26" height="42.27" fill="#fef2eb"/>
<rect x="1530.18" y="625.74" width="42.26" height="42.27" fill="#edf5f9"/>
<rect x="1530.18" y="666.21" width="42.26" height="42.27" fill="#f8fbfd"/>
<rect x="1530.18" y="706.68" width="42.26" height="42.27" fill="#e8f2f8"/>
<rect x="1530.18" y="747.15" width="42.26" height="42.27" fill="#fef6f1"/>
<rect x="1530.18" y="787.62" width="42.26" height="42.27" fill="#f1f7fa"/>
<rect x="1530.18" y="828.09" width="42.26" height="42.27" fill="#ffffff"/>
<rect x="1530.18" y="868.56" width="42.26" height="42.27" fill="#edf5f9"/>
<rect x="1530.18" y="909.04" width="42.26" height="42.27" fill="#fee8db"/>
<rect x="1530.18" y="949.51" width="42.26" height="42.27" fill="#ffffff"/>
<rect x="1530.18" y="989.98" width="42.26" height="42.27" fill="#e3eff6"/>
<rect x="1530.18" y="1030.45" width="42.26" height="42.27" fill="#ffffff"/>
<rect x="1530.18" y="1070.92" width="42.26" height="42.27" fill="#eff6fa"/>
<rect x="1530.18" y="1111.39" width="42.26" height="42.27" fill="#eff6fa"/>
<rect x="1530.18" y="1151.86" width="42.26" height="42.27" fill="#daeaf3"/>
<rect x="1530.18" y="1192.33" width="42.26" height="42.27" fill="#a2cde2"/>
<rect x="1530.18" y="1232.80" width="42.26" height="42.27" fill="#eff6fa"/>
<rect x="1530.18" y="1273.27" width="42.26" height="42.27" fill="#f6fafc"/>
<rect x="1530.18" y="1313.75" width="42.26" height="42.27" fill="#feede3"/>
<rect x="1530.18" y="1354.22" width="42.26" height="42.27" fill="#e8f2f8"/>
<rect x="1530.18" y="1394.69" width="42.26" height="42.27" fill="#abd2e5"/>
<rect x="1530.18" y="1435.16" width="42.26" height="42.27" fill="#053061"/>
<rect x="1530.18" y="1475.63" width="42.26" height="42.27" fill="#7eb8d7"/>
<rect x="1570.64" y="261.50" width="42.26" height="42.27" fill="#feede3"/>
<rect x="1570.64" y="301.97" width="42.26" height="42.27" fill="#fff8f4"/>
<rect x="1570.64" y="342.44" width="42.26" height="42.27" fill="#fef4ee"/>
<rect x="1570.64" y="382.91" width="42.26" height="42.27" fill="#bb2a34"/>
<rect x="1570.64" y="423.38" width="42.26" height="42.27" fill="#feede3"/>
<rect x="1570.64" y="463.85" width="42.26" height="42.27" fill="#f6fafc"/>
<rect x="1570.64" y="504.33" width="42.26" height="42.27" fill="#98c8e0"/>
<rect x="1570.64" y="544.80" width="42.26" height="42.27" fill="#d8e9f2"/>
<rect x="1570.64" y="585.27" width="42.26" height="42.27" fill="#fef2eb"/>
<rect x="1570.64" y="625.74" width="42.26" height="42.27" fill="#e8f2f8"/>
<rect x="1570.64" y="666.21" width="42.26" height="42.27" fill="#f4f8fb"/>
<rect x="1570.64" y="706.68" width="42.26" height="42.27" fill="#e8f2f8"/>
<rect x="1570.64" y="747.15" width="42.26" height="42.27" fill="#fef6f1"/>
<rect x="1570.64" y="787.62" width="42.26" height="42.27" fill="#f1f7fa"/>
<rect x="1570.64" y="828.09" width="42.26" height="42.27" fill="#ffffff"/>
<rect x="1570.64" y="868.56" width="42.26" height="42.27" fill="#d1e5f0"/>
<rect x="1570.64" y="909.04" width="42.26" height="42.27" fill="#edf5f9"/>
<rect x="1570.64" y="949.51" width="42.26" height="42.27" fill="#f8fbfd"/>
<rect x="1570.64" y="989.98" width="42.26" height="42.27" fill="#6aacd0"/>
<rect x="1570.64" y="1030.45" width="42.26" height="42.27" fill="#fddfcd"/>
<rect x="1570.64" y="1070.92" width="42.26" height="42.27" fill="#f8fbfd"/>
<rect x="1570.64" y="1111.39" width="42.26" height="42.27" fill="#fef4ee"/>
<rect x="1570.64" y="1151.86" width="42.26" height="42.27" fill="#edf5f9"/>
<rect x="1570.64" y="1192.33" width="42.26" height="42.27" fill="#b2d5e7"/>
<rect x="1570.64" y="1232.80" width="42.26" height="42.27" fill="#dfedf4"/>
<rect x="1570.64" y="1273.27" width="42.26" height="42.27" fill="#f6fafc"/>
<rect x="1570.64" y="1313.75" width="42.26" height="42.27" fill="#feede3"/>
<rect x="1570.64" y="1354.22" width="42.26" height="42.27" fill="#dcecf4"/>
<rect x="1570.64" y="1394.69" width="42.26" height="42.27" fill="#d6e8f2"/>
<rect x="1570.64" y="1435.16" width="42.26" height="42.27" fill="#7eb8d7"/>
<rect x="1570.64" y="1475.63" width="42.26" height="42.27" fill="#053061"/>
</g>
<g class="st">
<text x="379.0" y="295.5">***</text>
<text x="1228.7" y="295.5">*</text>
<text x="419.5" y="336.0">***</text>
<text x="460.0" y="336.0">*</text>
<text x="540.9" y="336.0">*</text>
<text x="985.9" y="336.0">**</text>
<text x="1431.0" y="336.0">*</text>
<text x="419.5" y="376.5">*</text>
<text x="460.0" y="376.5">***</text>
<text x="1390.6" y="376.5">*</text>
<text x="500.4" y="416.9">***</text>
<text x="540.9" y="416.9">*</text>
<text x="621.8" y="416.9">***</text>
<text x="743.2" y="416.9">*</text>
<text x="783.6" y="416.9">*</text>
<text x="985.9" y="416.9">*</text>
<text x="1107.3" y="416.9">***</text>
<text x="1147.8" y="416.9">***</text>
<text x="1390.6" y="416.9">*</text>
<text x="1552.4" y="416.9">***</text>
<text x="1592.9" y="416.9">***</text>
<text x="419.5" y="457.4">*</text>
<text x="500.4" y="457.4">*</text>
<text x="540.9" y="457.4">***</text>
<text x="985.9" y="457.4">**</text>
<text x="1390.6" y="457.4">***</text>
<text x="1511.9" y="457.4">*</text>
<text x="581.3" y="497.9">***</text>
<text x="702.7" y="497.9">***</text>
<text x="1309.6" y="497.9">**</text>
<text x="1390.6" y="497.9">***</text>
<text x="500.4" y="538.4">***</text>
<text x="621.8" y="538.4">***</text>
<text x="662.3" y="538.4">***</text>
<text x="702.7" y="538.4">*</text>
<text x="1107.3" y="538.4">**</text>
<text x="1228.7" y="538.4">*</text>
<text x="1269.2" y="538.4">*</text>
<text x="1309.6" y="538.4">**</text>
<text x="1511.9" y="538.4">***</text>
<text x="1552.4" y="538.4">***</text>
<text x="1592.9" y="538.4">***</text>
<text x="621.8" y="578.8">***</text>
<text x="662.3" y="578.8">***</text>
<text x="985.9" y="578.8">*</text>
<text x="1026.4" y="578.8">*</text>
<text x="1066.9" y="578.8">*</text>
<text x="1107.3" y="578.8">***</text>
<text x="1147.8" y="578.8">***</text>
<text x="1188.3" y="578.8">***</text>
<text x="1431.0" y="578.8">*</text>
<text x="1592.9" y="578.8">**</text>
<text x="581.3" y="619.3">***</text>
<text x="621.8" y="619.3">*</text>
<text x="702.7" y="619.3">***</text>
<text x="1309.6" y="619.3">***</text>
<text x="500.4" y="659.8">*</text>
<text x="743.2" y="659.8">***</text>
<text x="783.6" y="659.8">***</text>
<text x="985.9" y="659.8">*</text>
<text x="1228.7" y="659.8">*</text>
<text x="1269.2" y="659.8">*</text>
<text x="1309.6" y="659.8">***</text>
<text x="1390.6" y="659.8">**</text>
<text x="1431.0" y="659.8">**</text>
<text x="1511.9" y="659.8">*</text>
<text x="500.4" y="700.2">*</text>
<text x="743.2" y="700.2">***</text>
<text x="783.6" y="700.2">***</text>
<text x="1269.2" y="700.2">**</text>
<text x="1309.6" y="700.2">***</text>
<text x="1350.1" y="700.2">*</text>
<text x="1390.6" y="700.2">***</text>
<text x="1431.0" y="700.2">**</text>
<text x="1511.9" y="700.2">**</text>
<text x="824.1" y="740.7">***</text>
<text x="864.6" y="740.7">***</text>
<text x="905.0" y="740.7">***</text>
<text x="945.5" y="740.7">***</text>
<text x="1269.2" y="740.7">*</text>
<text x="1431.0" y="740.7">**</text>
<text x="824.1" y="781.2">***</text>
<text x="864.6" y="781.2">***</text>
<text x="905.0" y="781.2">***</text>
<text x="945.5" y="781.2">***</text>
<text x="985.9" y="781.2">*</text>
<text x="1269.2" y="781.2">*</text>
<text x="1471.5" y="781.2">*</text>
<text x="824.1" y="821.7">***</text>
<text x="864.6" y="821.7">***</text>
<text x="905.0" y="821.7">***</text>
<text x="945.5" y="821.7">***</text>
<text x="824.1" y="862.1">***</text>
<text x="864.6" y="862.1">***</text>
<text x="905.0" y="862.1">***</text>
<text x="945.5" y="862.1">***</text>
<text x="419.5" y="902.6">**</text>
<text x="500.4" y="902.6">*</text>
<text x="540.9" y="902.6">**</text>
<text x="662.3" y="902.6">*</text>
<text x="743.2" y="902.6">*</text>
<text x="864.6" y="902.6">*</text>
<text x="985.9" y="902.6">***</text>
<text x="1066.9" y="902.6">*</text>
<text x="1147.8" y="902.6">***</text>
<text x="1188.3" y="902.6">***</text>
<text x="1309.6" y="902.6">*</text>
<text x="1350.1" y="902.6">*</text>
<text x="1471.5" y="902.6">*</text>
<text x="1511.9" y="902.6">***</text>
<text x="1592.9" y="902.6">**</text>
<text x="662.3" y="943.1">*</text>
<text x="1026.4" y="943.1">***</text>
<text x="1431.0" y="943.1">**</text>
<text x="662.3" y="983.5">*</text>
<text x="985.9" y="983.5">*</text>
<text x="1066.9" y="983.5">***</text>
<text x="1107.3" y="983.5">***</text>
<text x="1147.8" y="983.5">***</text>
<text x="1188.3" y="983.5">***</text>
<text x="1269.2" y="983.5">***</text>
<text x="1350.1" y="983.5">**</text>
<text x="1511.9" y="983.5">*</text>
<text x="500.4" y="1024.0">***</text>
<text x="621.8" y="1024.0">**</text>
<text x="662.3" y="1024.0">***</text>
<text x="1066.9" y="1024.0">***</text>
<text x="1107.3" y="1024.0">***</text>
<text x="1147.8" y="1024.0">***</text>
<text x="1188.3" y="1024.0">***</text>
<text x="1350.1" y="1024.0">*</text>
<text x="1431.0" y="1024.0">**</text>
<text x="1552.4" y="1024.0">*</text>
<text x="1592.9" y="1024.0">***</text>
<text x="500.4" y="1064.5">***</text>
<text x="662.3" y="1064.5">***</text>
<text x="985.9" y="1064.5">***</text>
<text x="1066.9" y="1064.5">***</text>
<text x="1107.3" y="1064.5">***</text>
<text x="1147.8" y="1064.5">***</text>
<text x="1188.3" y="1064.5">***</text>
<text x="1269.2" y="1064.5">*</text>
<text x="1431.0" y="1064.5">***</text>
<text x="1511.9" y="1064.5">*</text>
<text x="1592.9" y="1064.5">*</text>
<text x="662.3" y="1105.0">***</text>
<text x="985.9" y="1105.0">***</text>
<text x="1066.9" y="1105.0">***</text>
<text x="1107.3" y="1105.0">***</text>
<text x="1147.8" y="1105.0">***</text>
<text x="1188.3" y="1105.0">***</text>
<text x="1269.2" y="1105.0">*</text>
<text x="1431.0" y="1105.0">***</text>
<text x="1511.9" y="1105.0">*</text>
<text x="379.0" y="1145.4">*</text>
<text x="621.8" y="1145.4">*</text>
<text x="743.2" y="1145.4">*</text>
<text x="1228.7" y="1145.4">***</text>
<text x="1269.2" y="1145.4">**</text>
<text x="1309.6" y="1145.4">**</text>
<text x="1350.1" y="1145.4">*</text>
<text x="621.8" y="1185.9">*</text>
<text x="743.2" y="1185.9">*</text>
<text x="783.6" y="1185.9">**</text>
<text x="824.1" y="1185.9">*</text>
<text x="864.6" y="1185.9">*</text>
<text x="1066.9" y="1185.9">***</text>
<text x="1147.8" y="1185.9">*</text>
<text x="1188.3" y="1185.9">*</text>
<text x="1228.7" y="1185.9">**</text>
<text x="1269.2" y="1185.9">***</text>
<text x="1309.6" y="1185.9">***</text>
<text x="1350.1" y="1185.9">***</text>
<text x="1511.9" y="1185.9">**</text>
<text x="1552.4" y="1185.9">*</text>
<text x="581.3" y="1226.4">**</text>
<text x="621.8" y="1226.4">**</text>
<text x="702.7" y="1226.4">***</text>
<text x="743.2" y="1226.4">***</text>
<text x="783.6" y="1226.4">***</text>
<text x="985.9" y="1226.4">*</text>
<text x="1228.7" y="1226.4">**</text>
<text x="1269.2" y="1226.4">***</text>
<text x="1309.6" y="1226.4">***</text>
<text x="1350.1" y="1226.4">***</text>
<text x="1511.9" y="1226.4">***</text>
<text x="1552.4" y="1226.4">***</text>
<text x="1592.9" y="1226.4">***</text>
<text x="783.6" y="1266.8">*</text>
<text x="985.9" y="1266.8">*</text>
<text x="1066.9" y="1266.8">**</text>
<text x="1107.3" y="1266.8">*</text>
<text x="1228.7" y="1266.8">*</text>
<text x="1269.2" y="1266.8">***</text>
<text x="1309.6" y="1266.8">***</text>
<text x="1350.1" y="1266.8">***</text>
<text x="1511.9" y="1266.8">*</text>
<text x="1592.9" y="1266.8">*</text>
<text x="460.0" y="1307.3">*</text>
<text x="500.4" y="1307.3">*</text>
<text x="540.9" y="1307.3">***</text>
<text x="581.3" y="1307.3">***</text>
<text x="743.2" y="1307.3">**</text>
<text x="783.6" y="1307.3">***</text>
<text x="1390.6" y="1307.3">***</text>
<text x="1431.0" y="1307.3">***</text>
<text x="419.5" y="1347.8">*</text>
<text x="662.3" y="1347.8">*</text>
<text x="743.2" y="1347.8">**</text>
<text x="783.6" y="1347.8">**</text>
<text x="824.1" y="1347.8">**</text>
<text x="1026.4" y="1347.8">**</text>
<text x="1107.3" y="1347.8">**</text>
<text x="1147.8" y="1347.8">***</text>
<text x="1188.3" y="1347.8">***</text>
<text x="1390.6" y="1347.8">***</text>
<text x="1431.0" y="1347.8">***</text>
<text x="864.6" y="1388.3">*</text>
<text x="985.9" y="1388.3">*</text>
<text x="1471.5" y="1388.3">***</text>
<text x="1592.9" y="1388.3">*</text>
<text x="540.9" y="1428.7">*</text>
<text x="621.8" y="1428.7">***</text>
<text x="743.2" y="1428.7">*</text>
<text x="783.6" y="1428.7">**</text>
<text x="985.9" y="1428.7">***</text>
<text x="1066.9" y="1428.7">*</text>
<text x="1147.8" y="1428.7">*</text>
<text x="1188.3" y="1428.7">*</text>
<text x="1269.2" y="1428.7">**</text>
<text x="1309.6" y="1428.7">***</text>
<text x="1350.1" y="1428.7">*</text>
<text x="1511.9" y="1428.7">***</text>
<text x="1552.4" y="1428.7">***</text>
<text x="1592.9" y="1428.7">**</text>
<text x="500.4" y="1469.2">***</text>
<text x="621.8" y="1469.2">***</text>
<text x="1107.3" y="1469.2">*</text>
<text x="1269.2" y="1469.2">*</text>
<text x="1309.6" y="1469.2">***</text>
<text x="1511.9" y="1469.2">***</text>
<text x="1552.4" y="1469.2">***</text>
<text x="1592.9" y="1469.2">***</text>
<text x="500.4" y="1509.7">***</text>
<text x="621.8" y="1509.7">***</text>
<text x="662.3" y="1509.7">**</text>
<text x="985.9" y="1509.7">**</text>
<text x="1107.3" y="1509.7">***</text>
<text x="1147.8" y="1509.7">*</text>
<text x="1309.6" y="1509.7">***</text>
<text x="1350.1" y="1509.7">*</text>
<text x="1471.5" y="1509.7">*</text>
<text x="1511.9" y="1509.7">**</text>
<text x="1552.4" y="1509.7">***</text>
<text x="1592.9" y="1509.7">***</text>
</g>
<g fill="none" stroke="#000" stroke-width="4" stroke-linejoin="round">
<rect x="357.70" y="262.40" width="323.69" height="323.77"/>
<rect x="681.39" y="586.17" width="930.61" height="930.83"/>
</g>
<g class="rl">
<text transform="translate(341.9 290.90) scale(1 1.045)">Recurrence</text>
<text transform="translate(341.9 331.35) scale(1 1.045)">Volum</text>
<text transform="translate(341.9 371.79) scale(1 1.045)">AFP</text>
<text transform="translate(341.9 412.24) scale(1 1.045)">Lymphocytes</text>
<text transform="translate(341.9 452.69) scale(1 1.045)">APTT</text>
<text transform="translate(341.9 493.13) scale(1 1.045)">Dysmenorrhea</text>
<text transform="translate(341.9 533.58) scale(1 1.045)">Platelets</text>
<text transform="translate(341.9 574.03) scale(1 1.045)">PNR</text>
<text transform="translate(341.9 614.48) scale(1 1.045)">Dysmenorrhea degree</text>
<text transform="translate(341.9 654.92) scale(1 1.045)">Prothrombin Time</text>
<text transform="translate(341.9 695.37) scale(1 1.045)">INR</text>
<text transform="translate(341.9 735.82) scale(1 1.045)">Number of Deliveries</text>
<text transform="translate(341.9 776.26) scale(1 1.045)">Cesarean Section</text>
<text transform="translate(341.9 816.71) scale(1 1.045)">Number of Pregnancies</text>
<text transform="translate(341.9 857.16) scale(1 1.045)">Abortion</text>
<text transform="translate(341.9 897.61) scale(1 1.045)">Thrombin Time</text>
<text transform="translate(341.9 938.05) scale(1 1.045)">CEA</text>
<text transform="translate(341.9 978.50) scale(1 1.045)">Rupture</text>
<text transform="translate(341.9 1018.95) scale(1 1.045)">NLR</text>
<text transform="translate(341.9 1059.39) scale(1 1.045)">White blood cells</text>
<text transform="translate(341.9 1099.84) scale(1 1.045)">Neutrophils</text>
<text transform="translate(341.9 1140.29) scale(1 1.045)">CA153</text>
<text transform="translate(341.9 1180.73) scale(1 1.045)">D Dimer</text>
<text transform="translate(341.9 1221.18) scale(1 1.045)">CA125</text>
<text transform="translate(341.9 1261.63) scale(1 1.045)">CA199</text>
<text transform="translate(341.9 1302.08) scale(1 1.045)">Age</text>
<text transform="translate(341.9 1342.52) scale(1 1.045)">HE4</text>
<text transform="translate(341.9 1382.97) scale(1 1.045)">Antithrombin Activity</text>
<text transform="translate(341.9 1423.42) scale(1 1.045)">Fibrinogen</text>
<text transform="translate(341.9 1463.86) scale(1 1.045)">PHN</text>
<text transform="translate(341.9 1504.31) scale(1 1.045)">PLR</text>
</g>
<g class="cl">
<text transform="translate(377.7 246.9) rotate(-45) translate(0 11.57) scale(1 1.01)">Recurrence</text>
<text transform="translate(418.2 246.9) rotate(-45) translate(0 11.57) scale(1 1.01)">Volum</text>
<text transform="translate(458.7 246.9) rotate(-45) translate(0 11.57) scale(1 1.01)">AFP</text>
<text transform="translate(499.1 246.9) rotate(-45) translate(0 8.31) scale(1 1.01)">Lymphocytes</text>
<text transform="translate(539.6 246.9) rotate(-45) translate(0 11.57) scale(1 1.01)">APTT</text>
<text transform="translate(580.0 246.9) rotate(-45) translate(0 8.31) scale(1 1.01)">Dysmenorrhea</text>
<text transform="translate(620.5 246.9) rotate(-45) translate(0 11.57) scale(1 1.01)">Platelets</text>
<text transform="translate(661.0 246.9) rotate(-45) translate(0 11.57) scale(1 1.01)">PNR</text>
<text transform="translate(701.4 246.9) rotate(-45) translate(0 8.31) scale(1 1.01)">Dysmenorrhea degree</text>
<text transform="translate(741.9 246.9) rotate(-45) translate(0 11.57) scale(1 1.01)">Prothrombin Time</text>
<text transform="translate(782.3 246.9) rotate(-45) translate(0 11.57) scale(1 1.01)">INR</text>
<text transform="translate(822.8 246.9) rotate(-45) translate(0 11.57) scale(1 1.01)">Number of Deliveries</text>
<text transform="translate(863.3 246.9) rotate(-45) translate(0 11.57) scale(1 1.01)">Cesarean Section</text>
<text transform="translate(903.7 246.9) rotate(-45) translate(0 8.31) scale(1 1.01)">Number of Pregnancies</text>
<text transform="translate(944.2 246.9) rotate(-45) translate(0 11.57) scale(1 1.01)">Abortion</text>
<text transform="translate(984.6 246.9) rotate(-45) translate(0 11.57) scale(1 1.01)">Thrombin Time</text>
<text transform="translate(1025.1 246.9) rotate(-45) translate(0 11.57) scale(1 1.01)">CEA</text>
<text transform="translate(1065.6 246.9) rotate(-45) translate(0 8.31) scale(1 1.01)">Rupture</text>
<text transform="translate(1106.0 246.9) rotate(-45) translate(0 11.57) scale(1 1.01)">NLR</text>
<text transform="translate(1146.5 246.9) rotate(-45) translate(0 11.57) scale(1 1.01)">White blood cells</text>
<text transform="translate(1187.0 246.9) rotate(-45) translate(0 8.31) scale(1 1.01)">Neutrophils</text>
<text transform="translate(1227.4 246.9) rotate(-45) translate(0 11.57) scale(1 1.01)">CA153</text>
<text transform="translate(1267.9 246.9) rotate(-45) translate(0 11.57) scale(1 1.01)">D Dimer</text>
<text transform="translate(1308.3 246.9) rotate(-45) translate(0 11.57) scale(1 1.01)">CA125</text>
<text transform="translate(1348.8 246.9) rotate(-45) translate(0 11.57) scale(1 1.01)">CA199</text>
<text transform="translate(1389.3 246.9) rotate(-45) translate(0 8.31) scale(1 1.01)">Age</text>
<text transform="translate(1429.7 246.9) rotate(-45) translate(0 11.57) scale(1 1.01)">HE4</text>
<text transform="translate(1470.2 246.9) rotate(-45) translate(0 8.31) scale(1 1.01)">Antithrombin Activity</text>
<text transform="translate(1510.6 246.9) rotate(-45) translate(0 8.31) scale(1 1.01)">Fibrinogen</text>
<text transform="translate(1551.1 246.9) rotate(-45) translate(0 11.57) scale(1 1.01)">PHN</text>
<text transform="translate(1591.6 246.9) rotate(-45) translate(0 11.57) scale(1 1.01)">PLR</text>
</g>
<rect x="1636.10" y="262.40" width="47.40" height="1254.60" fill="url(#cbg)" stroke="#000" stroke-width="1.7"/>
<g stroke="#000" stroke-width="1.7">
<line x1="1683.50" y1="262.40" x2="1694.10" y2="262.40"/>
<line x1="1683.50" y1="387.86" x2="1694.10" y2="387.86"/>
<line x1="1683.50" y1="513.32" x2="1694.10" y2="513.32"/>
<line x1="1683.50" y1="638.78" x2="1694.10" y2="638.78"/>
<line x1="1683.50" y1="764.24" x2="1694.10" y2="764.24"/>
<line x1="1683.50" y1="889.70" x2="1694.10" y2="889.70"/>
<line x1="1683.50" y1="1015.16" x2="1694.10" y2="1015.16"/>
<line x1="1683.50" y1="1140.62" x2="1694.10" y2="1140.62"/>
<line x1="1683.50" y1="1266.08" x2="1694.10" y2="1266.08"/>
<line x1="1683.50" y1="1391.54" x2="1694.10" y2="1391.54"/>
<line x1="1683.50" y1="1517.00" x2="1694.10" y2="1517.00"/>
</g>
<g class="cb">
<text transform="translate(1743.5 271.90) scale(1 1.045)">1</text>
<text transform="translate(1743.5 397.36) scale(1 1.045)">0.8</text>
<text transform="translate(1743.5 522.82) scale(1 1.045)">0.6</text>
<text transform="translate(1743.5 648.28) scale(1 1.045)">0.4</text>
<text transform="translate(1743.5 773.74) scale(1 1.045)">0.2</text>
<text transform="translate(1743.5 899.20) scale(1 1.045)">0</text>
<text transform="translate(1743.5 1024.66) scale(1 1.045)">−0.2</text>
<text transform="translate(1743.5 1150.12) scale(1 1.045)">−0.4</text>
<text transform="translate(1743.5 1275.58) scale(1 1.045)">−0.6</text>
<text transform="translate(1743.5 1401.04) scale(1 1.045)">−0.8</text>
<text transform="translate(1743.5 1526.50) scale(1 1.045)">−1</text>
</g>
</svg>
</body></html>
